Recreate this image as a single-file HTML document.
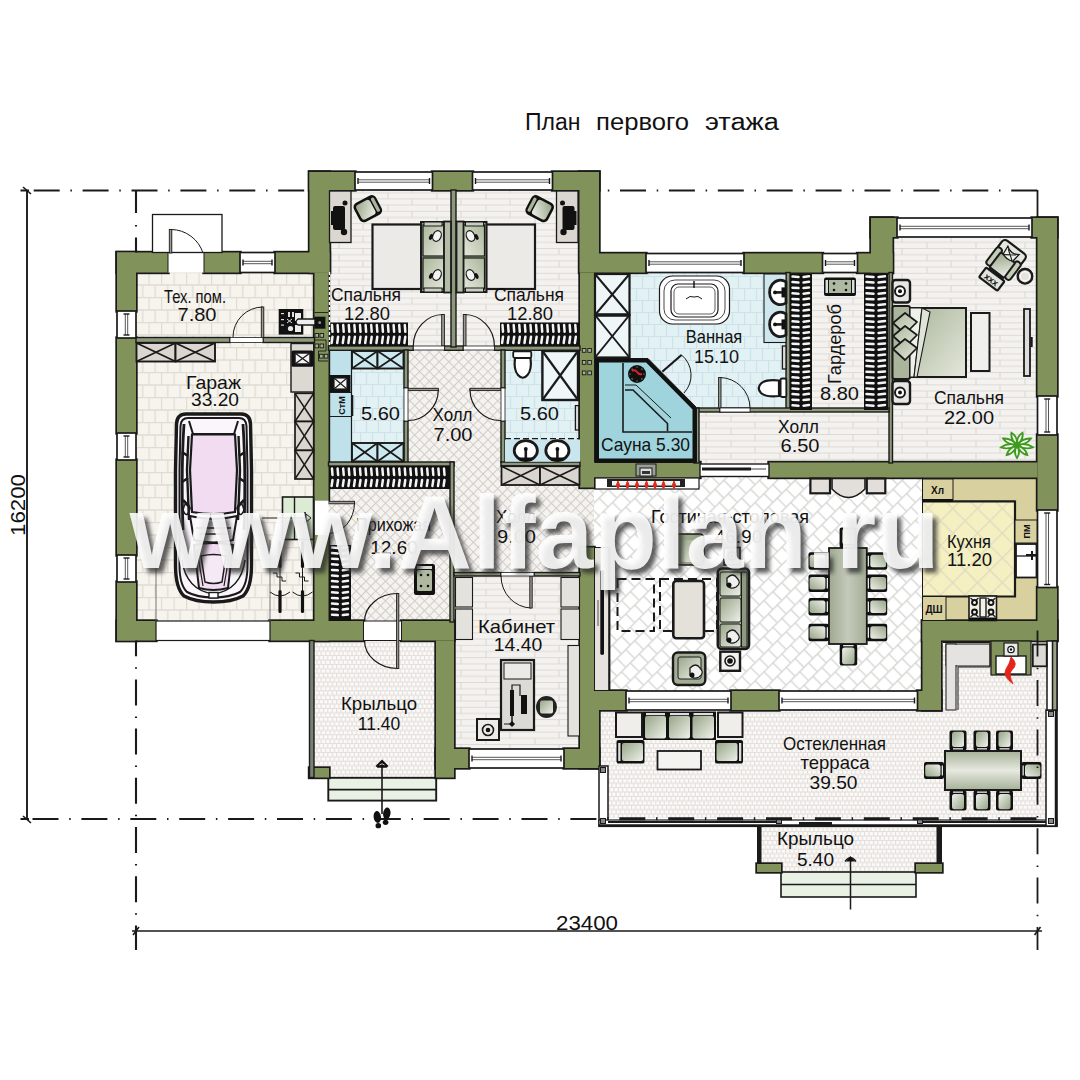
<!DOCTYPE html>
<html lang="ru"><head><meta charset="utf-8"><title>План первого этажа</title>
<style>
html,body{margin:0;padding:0;background:#fff;}
svg{display:block;font-family:"Liberation Sans",sans-serif;}
</style></head><body>
<svg width="1080" height="1080" viewBox="0 0 1080 1080">
<defs>
<pattern id="brick" width="12.5" height="25" patternUnits="userSpaceOnUse" x="136" y="272">
<rect width="12.5" height="25" fill="#f7f4ee"/>
<path d="M0 0.5H12.5M0 13H12.5M0.5 0V12.5M6.7 12.5V25" stroke="#dfdbd5" stroke-width="1.3" fill="none"/>
</pattern>
<pattern id="plank" width="98" height="12.4" patternUnits="userSpaceOnUse">
<rect width="98" height="12.4" fill="#f4f2ef"/>
<path d="M0 0.5H98M0 6.7H98M20 0V6.2M69 0V6.2M45 6.2V12.4M94 6.2V12.4" stroke="#dcd9d5" stroke-width="1.1" fill="none"/>
</pattern>
<pattern id="btile" width="12" height="24" patternUnits="userSpaceOnUse">
<rect width="12" height="24" fill="#e2f1f4"/>
<path d="M0 0.5H12M0 12.5H12M0.5 0V12M6.5 12V24" stroke="#cde2e8" stroke-width="1.2" fill="none"/>
</pattern>
<pattern id="diam" width="6.9" height="6.9" patternUnits="userSpaceOnUse" patternTransform="rotate(45)">
<rect width="6.9" height="6.9" fill="#f5f3f0"/>
<path d="M0 0.5H6.9M0.5 0V6.9" stroke="#d2cdc8" stroke-width="1.1" fill="none"/>
</pattern>
<pattern id="bigdiam" width="12.6" height="25.2" patternUnits="userSpaceOnUse" patternTransform="rotate(-45 600 480)">
<rect width="12.6" height="25.2" fill="#ffffff"/>
<path d="M0 0.7H12.6M0 13.3H12.6M0.7 0V12.6M7 12.6V25.2" stroke="#d8d8d6" stroke-width="1.4" fill="none"/>
</pattern>
<pattern id="kdiam" width="17.5" height="17.5" patternUnits="userSpaceOnUse" patternTransform="rotate(45)">
<rect width="17.5" height="17.5" fill="#f4f0c2"/>
<path d="M0 0.7H17.5M0.7 0V17.5" stroke="#e2dcc0" stroke-width="1.4" fill="none"/>
</pattern>
<pattern id="stile" width="4.4" height="8.8" patternUnits="userSpaceOnUse">
<rect width="4.4" height="8.8" fill="#e2ddd9"/>
<path d="M0.6 0.6h3.3v3.3h-3.3zM2.8 5h3.3v3.3h-3.3zM-1.6 5h3.3v3.3h-3.3z" fill="#fbfaf8"/>
</pattern>
<linearGradient id="gseat" x1="0" y1="0" x2="1" y2="1">
<stop offset="0" stop-color="#98a587"/><stop offset="1" stop-color="#eef1ea"/>
</linearGradient>
<linearGradient id="gtable" x1="0" y1="0" x2="1" y2="0">
<stop offset="0" stop-color="#9ea98f"/><stop offset="0.5" stop-color="#c4cabb"/><stop offset="1" stop-color="#a2ad94"/>
</linearGradient>
<linearGradient id="gtableh" x1="0" y1="0" x2="0" y2="1">
<stop offset="0" stop-color="#a6b198"/><stop offset="0.5" stop-color="#e6e9e0"/><stop offset="1" stop-color="#a6b198"/>
</linearGradient>
<linearGradient id="gbed" x1="0" y1="0" x2="1" y2="1">
<stop offset="0" stop-color="#aab69a"/><stop offset="1" stop-color="#e4e8dc"/>
</linearGradient>
<filter id="wmshadow" x="-5%" y="-20%" width="110%" height="150%">
<feGaussianBlur stdDeviation="2"/>
</filter>
</defs>

<rect width="1080" height="1080" fill="#ffffff"/>
<g id="floors">
<rect x="136.0" y="272.0" width="178.0" height="66.0" fill="url(#brick)" />
<rect x="136.0" y="340.0" width="178.0" height="282.0" fill="url(#brick)" />
<rect x="329.0" y="190.0" width="122.0" height="157.0" fill="url(#plank)" />
<rect x="456.0" y="190.0" width="124.0" height="157.0" fill="url(#plank)" />
<rect x="329.0" y="350.0" width="75.0" height="112.0" fill="#bfe2ea" />
<rect x="352.0" y="369.0" width="51.0" height="74.0" fill="url(#btile)" />
<rect x="408.0" y="350.0" width="93.0" height="116.0" fill="url(#diam)" />
<rect x="505.0" y="350.0" width="75.0" height="112.0" fill="url(#btile)" />
<rect x="328.0" y="466.0" width="122.0" height="156.0" fill="url(#diam)" />
<rect x="454.0" y="462.0" width="140.0" height="111.0" fill="url(#diam)" />
<rect x="454.0" y="576.0" width="126.0" height="173.0" fill="url(#plank)" />
<rect x="595.0" y="272.0" width="192.0" height="136.0" fill="url(#btile)" />
<rect x="699.0" y="412.0" width="191.0" height="51.0" fill="url(#plank)" />
<rect x="790.0" y="272.0" width="100.0" height="139.0" fill="url(#plank)" />
<rect x="892.0" y="237.0" width="146.0" height="226.0" fill="url(#plank)" />
<rect x="594.0" y="477.0" width="329.0" height="214.0" fill="url(#bigdiam)" />
<rect x="922.5" y="477.5" width="115.0" height="143.5" fill="#d9d0a0" />
<rect x="922.5" y="501.0" width="92.5" height="95.5" fill="url(#kdiam)" stroke="#1a1a1a" stroke-width="1" />
<path d="M953 501.5H1015V596.5H922.5" fill="none" stroke="#1a1a1a" stroke-width="2.2" />
<rect x="599.0" y="710.0" width="448.0" height="108.0" fill="url(#stile)" />
<rect x="941.0" y="640.0" width="111.0" height="71.0" fill="url(#stile)" />
<rect x="314.0" y="640.0" width="122.0" height="137.0" fill="url(#stile)" />
<rect x="760.0" y="826.0" width="178.0" height="46.0" fill="url(#stile)" />
<rect x="328.3" y="777.8" width="107.9" height="22.8" fill="#e9f1e5" stroke="#1a1a1a" stroke-width="1.9" />
<line x1="328.3" y1="789.6" x2="436.2" y2="789.6" stroke="#1a1a1a" stroke-width="1.7" />
<rect x="781.0" y="872.0" width="135.0" height="25.0" fill="#e9f1e5" stroke="#1a1a1a" stroke-width="1.6" />
<line x1="781.0" y1="884.5" x2="916.0" y2="884.5" stroke="#1a1a1a" stroke-width="1.4" />
</g>
<g id="walls">
<rect x="117.0" y="252.5" width="19.0" height="58.5" fill="#1a1a1a" stroke="#1a1a1a" stroke-width="3.4" />
<rect x="117.0" y="338.0" width="19.0" height="95.0" fill="#1a1a1a" stroke="#1a1a1a" stroke-width="3.4" />
<rect x="117.0" y="460.0" width="19.0" height="95.0" fill="#1a1a1a" stroke="#1a1a1a" stroke-width="3.4" />
<rect x="117.0" y="582.0" width="19.0" height="58.5" fill="#1a1a1a" stroke="#1a1a1a" stroke-width="3.4" />
<rect x="117.0" y="252.5" width="51.0" height="20.0" fill="#1a1a1a" stroke="#1a1a1a" stroke-width="3.4" />
<rect x="204.0" y="252.5" width="36.0" height="20.0" fill="#1a1a1a" stroke="#1a1a1a" stroke-width="3.4" />
<rect x="275.0" y="252.5" width="54.5" height="20.0" fill="#1a1a1a" stroke="#1a1a1a" stroke-width="3.4" />
<rect x="309.5" y="172.0" width="20.0" height="100.5" fill="#1a1a1a" stroke="#1a1a1a" stroke-width="3.4" />
<rect x="314.5" y="272.5" width="14.0" height="228.0" fill="#1a1a1a" stroke="#1a1a1a" stroke-width="3.4" />
<rect x="314.5" y="535.0" width="14.0" height="105.5" fill="#1a1a1a" stroke="#1a1a1a" stroke-width="3.4" />
<rect x="309.5" y="172.0" width="45.5" height="18.0" fill="#1a1a1a" stroke="#1a1a1a" stroke-width="3.4" />
<rect x="432.5" y="172.0" width="40.0" height="18.0" fill="#1a1a1a" stroke="#1a1a1a" stroke-width="3.4" />
<rect x="552.5" y="172.0" width="46.5" height="18.0" fill="#1a1a1a" stroke="#1a1a1a" stroke-width="3.4" />
<rect x="579.5" y="172.0" width="19.5" height="100.5" fill="#1a1a1a" stroke="#1a1a1a" stroke-width="3.4" />
<rect x="580.0" y="272.5" width="14.0" height="215.0" fill="#1a1a1a" stroke="#1a1a1a" stroke-width="3.4" />
<rect x="580.0" y="547.5" width="14.0" height="143.5" fill="#1a1a1a" stroke="#1a1a1a" stroke-width="3.4" />
<rect x="599.0" y="253.5" width="47.0" height="19.0" fill="#1a1a1a" stroke="#1a1a1a" stroke-width="3.4" />
<rect x="744.0" y="253.5" width="78.5" height="19.0" fill="#1a1a1a" stroke="#1a1a1a" stroke-width="3.4" />
<rect x="857.5" y="253.5" width="35.0" height="19.0" fill="#1a1a1a" stroke="#1a1a1a" stroke-width="3.4" />
<rect x="871.0" y="218.0" width="21.5" height="54.5" fill="#1a1a1a" stroke="#1a1a1a" stroke-width="3.4" />
<rect x="871.0" y="218.0" width="26.0" height="19.0" fill="#1a1a1a" stroke="#1a1a1a" stroke-width="3.4" />
<rect x="1032.0" y="218.0" width="25.0" height="19.0" fill="#1a1a1a" stroke="#1a1a1a" stroke-width="3.4" />
<rect x="1037.5" y="218.0" width="19.5" height="178.0" fill="#1a1a1a" stroke="#1a1a1a" stroke-width="3.4" />
<rect x="1037.5" y="435.0" width="19.5" height="75.0" fill="#1a1a1a" stroke="#1a1a1a" stroke-width="3.4" />
<rect x="1037.5" y="587.5" width="19.5" height="53.0" fill="#1a1a1a" stroke="#1a1a1a" stroke-width="3.4" />
<rect x="594.0" y="462.5" width="106.0" height="15.0" fill="#1a1a1a" stroke="#1a1a1a" stroke-width="3.4" />
<rect x="769.0" y="462.5" width="268.5" height="15.0" fill="#1a1a1a" stroke="#1a1a1a" stroke-width="3.4" />
<rect x="117.0" y="621.0" width="39.0" height="19.5" fill="#1a1a1a" stroke="#1a1a1a" stroke-width="3.4" />
<rect x="270.0" y="621.0" width="93.5" height="19.5" fill="#1a1a1a" stroke="#1a1a1a" stroke-width="3.4" />
<rect x="401.5" y="621.0" width="52.5" height="19.5" fill="#1a1a1a" stroke="#1a1a1a" stroke-width="3.4" />
<rect x="436.0" y="640.5" width="18.0" height="137.0" fill="#1a1a1a" stroke="#1a1a1a" stroke-width="3.4" />
<rect x="309.5" y="768.0" width="19.5" height="9.5" fill="#1a1a1a" stroke="#1a1a1a" stroke-width="3.4" />
<rect x="436.0" y="749.0" width="33.0" height="19.0" fill="#1a1a1a" stroke="#1a1a1a" stroke-width="3.4" />
<rect x="564.0" y="749.0" width="35.0" height="19.0" fill="#1a1a1a" stroke="#1a1a1a" stroke-width="3.4" />
<rect x="580.0" y="691.0" width="19.0" height="77.0" fill="#1a1a1a" stroke="#1a1a1a" stroke-width="3.4" />
<rect x="580.0" y="691.0" width="46.0" height="19.0" fill="#1a1a1a" stroke="#1a1a1a" stroke-width="3.4" />
<rect x="731.0" y="691.0" width="48.0" height="19.0" fill="#1a1a1a" stroke="#1a1a1a" stroke-width="3.4" />
<rect x="917.5" y="691.0" width="23.5" height="19.0" fill="#1a1a1a" stroke="#1a1a1a" stroke-width="3.4" />
<rect x="922.5" y="621.0" width="134.5" height="19.5" fill="#1a1a1a" stroke="#1a1a1a" stroke-width="3.4" />
<rect x="922.5" y="621.0" width="18.5" height="89.0" fill="#1a1a1a" stroke="#1a1a1a" stroke-width="3.4" />
<rect x="757.0" y="864.0" width="24.0" height="8.0" fill="#1a1a1a" stroke="#1a1a1a" stroke-width="3.4" />
<rect x="916.0" y="864.0" width="26.0" height="8.0" fill="#1a1a1a" stroke="#1a1a1a" stroke-width="3.4" />
<rect x="117.0" y="252.5" width="19.0" height="58.5" fill="#81935a" />
<rect x="117.0" y="338.0" width="19.0" height="95.0" fill="#81935a" />
<rect x="117.0" y="460.0" width="19.0" height="95.0" fill="#81935a" />
<rect x="117.0" y="582.0" width="19.0" height="58.5" fill="#81935a" />
<rect x="117.0" y="252.5" width="51.0" height="20.0" fill="#81935a" />
<rect x="204.0" y="252.5" width="36.0" height="20.0" fill="#81935a" />
<rect x="275.0" y="252.5" width="54.5" height="20.0" fill="#81935a" />
<rect x="309.5" y="172.0" width="20.0" height="100.5" fill="#81935a" />
<rect x="314.5" y="272.5" width="14.0" height="228.0" fill="#81935a" />
<rect x="314.5" y="535.0" width="14.0" height="105.5" fill="#81935a" />
<rect x="309.5" y="172.0" width="45.5" height="18.0" fill="#81935a" />
<rect x="432.5" y="172.0" width="40.0" height="18.0" fill="#81935a" />
<rect x="552.5" y="172.0" width="46.5" height="18.0" fill="#81935a" />
<rect x="579.5" y="172.0" width="19.5" height="100.5" fill="#81935a" />
<rect x="580.0" y="272.5" width="14.0" height="215.0" fill="#81935a" />
<rect x="580.0" y="547.5" width="14.0" height="143.5" fill="#81935a" />
<rect x="599.0" y="253.5" width="47.0" height="19.0" fill="#81935a" />
<rect x="744.0" y="253.5" width="78.5" height="19.0" fill="#81935a" />
<rect x="857.5" y="253.5" width="35.0" height="19.0" fill="#81935a" />
<rect x="871.0" y="218.0" width="21.5" height="54.5" fill="#81935a" />
<rect x="871.0" y="218.0" width="26.0" height="19.0" fill="#81935a" />
<rect x="1032.0" y="218.0" width="25.0" height="19.0" fill="#81935a" />
<rect x="1037.5" y="218.0" width="19.5" height="178.0" fill="#81935a" />
<rect x="1037.5" y="435.0" width="19.5" height="75.0" fill="#81935a" />
<rect x="1037.5" y="587.5" width="19.5" height="53.0" fill="#81935a" />
<rect x="594.0" y="462.5" width="106.0" height="15.0" fill="#81935a" />
<rect x="769.0" y="462.5" width="268.5" height="15.0" fill="#81935a" />
<rect x="117.0" y="621.0" width="39.0" height="19.5" fill="#81935a" />
<rect x="270.0" y="621.0" width="93.5" height="19.5" fill="#81935a" />
<rect x="401.5" y="621.0" width="52.5" height="19.5" fill="#81935a" />
<rect x="436.0" y="640.5" width="18.0" height="137.0" fill="#81935a" />
<rect x="309.5" y="768.0" width="19.5" height="9.5" fill="#81935a" />
<rect x="436.0" y="749.0" width="33.0" height="19.0" fill="#81935a" />
<rect x="564.0" y="749.0" width="35.0" height="19.0" fill="#81935a" />
<rect x="580.0" y="691.0" width="19.0" height="77.0" fill="#81935a" />
<rect x="580.0" y="691.0" width="46.0" height="19.0" fill="#81935a" />
<rect x="731.0" y="691.0" width="48.0" height="19.0" fill="#81935a" />
<rect x="917.5" y="691.0" width="23.5" height="19.0" fill="#81935a" />
<rect x="922.5" y="621.0" width="134.5" height="19.5" fill="#81935a" />
<rect x="922.5" y="621.0" width="18.5" height="89.0" fill="#81935a" />
<rect x="757.0" y="864.0" width="24.0" height="8.0" fill="#81935a" />
<rect x="916.0" y="864.0" width="26.0" height="8.0" fill="#81935a" />
<rect x="136.0" y="337.5" width="94.0" height="5.0" fill="#8e987a" stroke="#1a1a1a" stroke-width="1.4" />
<rect x="263.0" y="337.5" width="51.5" height="5.0" fill="#8e987a" stroke="#1a1a1a" stroke-width="1.4" />
<rect x="328.5" y="346.0" width="84.8" height="4.3" fill="#8e987a" stroke="#1a1a1a" stroke-width="1.4" />
<rect x="444.4" y="346.0" width="18.9" height="4.3" fill="#8e987a" stroke="#1a1a1a" stroke-width="1.4" />
<rect x="494.4" y="346.0" width="85.6" height="4.3" fill="#8e987a" stroke="#1a1a1a" stroke-width="1.4" />
<rect x="451.0" y="190.0" width="5.0" height="157.0" fill="#8e987a" stroke="#1a1a1a" stroke-width="1.4" />
<rect x="404.0" y="350.0" width="4.0" height="38.0" fill="#8e987a" stroke="#1a1a1a" stroke-width="1.4" />
<rect x="404.0" y="421.0" width="4.0" height="41.5" fill="#8e987a" stroke="#1a1a1a" stroke-width="1.4" />
<rect x="501.0" y="350.0" width="4.0" height="38.0" fill="#8e987a" stroke="#1a1a1a" stroke-width="1.4" />
<rect x="501.0" y="421.0" width="4.0" height="41.5" fill="#8e987a" stroke="#1a1a1a" stroke-width="1.4" />
<rect x="328.5" y="462.0" width="125.5" height="4.0" fill="#8e987a" stroke="#1a1a1a" stroke-width="1.4" />
<rect x="501.0" y="462.0" width="79.0" height="4.0" fill="#8e987a" stroke="#1a1a1a" stroke-width="1.4" />
<rect x="450.0" y="462.0" width="4.0" height="160.0" fill="#8e987a" stroke="#1a1a1a" stroke-width="1.4" />
<rect x="454.0" y="572.5" width="47.0" height="3.5" fill="#8e987a" stroke="#1a1a1a" stroke-width="1.4" />
<rect x="534.0" y="572.5" width="46.0" height="3.5" fill="#8e987a" stroke="#1a1a1a" stroke-width="1.4" />
<rect x="786.0" y="272.5" width="4.0" height="138.5" fill="#8e987a" stroke="#1a1a1a" stroke-width="1.4" />
<rect x="889.0" y="272.5" width="3.5" height="190.5" fill="#8e987a" stroke="#1a1a1a" stroke-width="1.4" />
<rect x="720.0" y="408.0" width="169.0" height="4.0" fill="#8e987a" stroke="#1a1a1a" stroke-width="1.4" />
<rect x="694.0" y="408.0" width="26.0" height="4.0" fill="#8e987a" stroke="#1a1a1a" stroke-width="1.4" />
<rect x="694.0" y="408.0" width="5.0" height="55.0" fill="#8e987a" stroke="#1a1a1a" stroke-width="1.4" />
<rect x="309.5" y="640.5" width="4.5" height="137.0" fill="#7b8172" stroke="#1a1a1a" stroke-width="1.4" />
</g>
<g id="windows">
<rect x="240.0" y="252.5" width="35.0" height="20.0" fill="#ffffff" stroke="#1a1a1a" stroke-width="1.7" />
<line x1="243.0" y1="261.3" x2="272.0" y2="261.3" stroke="#444" stroke-width="0.9" />
<line x1="243.0" y1="263.7" x2="272.0" y2="263.7" stroke="#444" stroke-width="0.9" />
<line x1="243.0" y1="259.5" x2="243.0" y2="265.5" stroke="#1a1a1a" stroke-width="1.4" />
<line x1="272.0" y1="259.5" x2="272.0" y2="265.5" stroke="#1a1a1a" stroke-width="1.4" />
<rect x="355.0" y="172.0" width="77.5" height="18.0" fill="#ffffff" stroke="#1a1a1a" stroke-width="1.7" />
<line x1="358.0" y1="179.8" x2="429.5" y2="179.8" stroke="#444" stroke-width="0.9" />
<line x1="358.0" y1="182.2" x2="429.5" y2="182.2" stroke="#444" stroke-width="0.9" />
<line x1="358.0" y1="178.0" x2="358.0" y2="184.0" stroke="#1a1a1a" stroke-width="1.4" />
<line x1="429.5" y1="178.0" x2="429.5" y2="184.0" stroke="#1a1a1a" stroke-width="1.4" />
<rect x="472.5" y="172.0" width="80.0" height="18.0" fill="#ffffff" stroke="#1a1a1a" stroke-width="1.7" />
<line x1="475.5" y1="179.8" x2="549.5" y2="179.8" stroke="#444" stroke-width="0.9" />
<line x1="475.5" y1="182.2" x2="549.5" y2="182.2" stroke="#444" stroke-width="0.9" />
<line x1="475.5" y1="178.0" x2="475.5" y2="184.0" stroke="#1a1a1a" stroke-width="1.4" />
<line x1="549.5" y1="178.0" x2="549.5" y2="184.0" stroke="#1a1a1a" stroke-width="1.4" />
<rect x="646.0" y="253.5" width="98.0" height="19.0" fill="#ffffff" stroke="#1a1a1a" stroke-width="1.7" />
<line x1="649.0" y1="261.8" x2="741.0" y2="261.8" stroke="#444" stroke-width="0.9" />
<line x1="649.0" y1="264.2" x2="741.0" y2="264.2" stroke="#444" stroke-width="0.9" />
<line x1="649.0" y1="260.0" x2="649.0" y2="266.0" stroke="#1a1a1a" stroke-width="1.4" />
<line x1="741.0" y1="260.0" x2="741.0" y2="266.0" stroke="#1a1a1a" stroke-width="1.4" />
<rect x="822.5" y="253.5" width="35.0" height="19.0" fill="#ffffff" stroke="#1a1a1a" stroke-width="1.7" />
<line x1="825.5" y1="261.8" x2="854.5" y2="261.8" stroke="#444" stroke-width="0.9" />
<line x1="825.5" y1="264.2" x2="854.5" y2="264.2" stroke="#444" stroke-width="0.9" />
<line x1="825.5" y1="260.0" x2="825.5" y2="266.0" stroke="#1a1a1a" stroke-width="1.4" />
<line x1="854.5" y1="260.0" x2="854.5" y2="266.0" stroke="#1a1a1a" stroke-width="1.4" />
<rect x="897.0" y="218.0" width="135.0" height="19.0" fill="#ffffff" stroke="#1a1a1a" stroke-width="1.7" />
<line x1="900.0" y1="226.3" x2="1029.0" y2="226.3" stroke="#444" stroke-width="0.9" />
<line x1="900.0" y1="228.7" x2="1029.0" y2="228.7" stroke="#444" stroke-width="0.9" />
<line x1="900.0" y1="224.5" x2="900.0" y2="230.5" stroke="#1a1a1a" stroke-width="1.4" />
<line x1="1029.0" y1="224.5" x2="1029.0" y2="230.5" stroke="#1a1a1a" stroke-width="1.4" />
<rect x="469.0" y="749.0" width="95.0" height="19.0" fill="#ffffff" stroke="#1a1a1a" stroke-width="1.7" />
<line x1="472.0" y1="757.3" x2="561.0" y2="757.3" stroke="#444" stroke-width="0.9" />
<line x1="472.0" y1="759.7" x2="561.0" y2="759.7" stroke="#444" stroke-width="0.9" />
<line x1="472.0" y1="755.5" x2="472.0" y2="761.5" stroke="#1a1a1a" stroke-width="1.4" />
<line x1="561.0" y1="755.5" x2="561.0" y2="761.5" stroke="#1a1a1a" stroke-width="1.4" />
<rect x="626.0" y="691.0" width="105.0" height="19.0" fill="#ffffff" stroke="#1a1a1a" stroke-width="1.7" />
<line x1="629.0" y1="699.3" x2="728.0" y2="699.3" stroke="#444" stroke-width="0.9" />
<line x1="629.0" y1="701.7" x2="728.0" y2="701.7" stroke="#444" stroke-width="0.9" />
<line x1="629.0" y1="697.5" x2="629.0" y2="703.5" stroke="#1a1a1a" stroke-width="1.4" />
<line x1="728.0" y1="697.5" x2="728.0" y2="703.5" stroke="#1a1a1a" stroke-width="1.4" />
<rect x="779.0" y="691.0" width="138.5" height="19.0" fill="#ffffff" stroke="#1a1a1a" stroke-width="1.7" />
<line x1="782.0" y1="699.3" x2="914.5" y2="699.3" stroke="#444" stroke-width="0.9" />
<line x1="782.0" y1="701.7" x2="914.5" y2="701.7" stroke="#444" stroke-width="0.9" />
<line x1="782.0" y1="697.5" x2="782.0" y2="703.5" stroke="#1a1a1a" stroke-width="1.4" />
<line x1="914.5" y1="697.5" x2="914.5" y2="703.5" stroke="#1a1a1a" stroke-width="1.4" />
<rect x="117.0" y="311.0" width="19.0" height="27.0" fill="#ffffff" stroke="#1a1a1a" stroke-width="1.7" />
<line x1="125.3" y1="314.0" x2="125.3" y2="335.0" stroke="#444" stroke-width="0.9" />
<line x1="127.7" y1="314.0" x2="127.7" y2="335.0" stroke="#444" stroke-width="0.9" />
<line x1="123.5" y1="314.0" x2="129.5" y2="314.0" stroke="#1a1a1a" stroke-width="1.4" />
<line x1="123.5" y1="335.0" x2="129.5" y2="335.0" stroke="#1a1a1a" stroke-width="1.4" />
<rect x="117.0" y="433.0" width="19.0" height="27.0" fill="#ffffff" stroke="#1a1a1a" stroke-width="1.7" />
<line x1="125.3" y1="436.0" x2="125.3" y2="457.0" stroke="#444" stroke-width="0.9" />
<line x1="127.7" y1="436.0" x2="127.7" y2="457.0" stroke="#444" stroke-width="0.9" />
<line x1="123.5" y1="436.0" x2="129.5" y2="436.0" stroke="#1a1a1a" stroke-width="1.4" />
<line x1="123.5" y1="457.0" x2="129.5" y2="457.0" stroke="#1a1a1a" stroke-width="1.4" />
<rect x="117.0" y="555.0" width="19.0" height="27.0" fill="#ffffff" stroke="#1a1a1a" stroke-width="1.7" />
<line x1="125.3" y1="558.0" x2="125.3" y2="579.0" stroke="#444" stroke-width="0.9" />
<line x1="127.7" y1="558.0" x2="127.7" y2="579.0" stroke="#444" stroke-width="0.9" />
<line x1="123.5" y1="558.0" x2="129.5" y2="558.0" stroke="#1a1a1a" stroke-width="1.4" />
<line x1="123.5" y1="579.0" x2="129.5" y2="579.0" stroke="#1a1a1a" stroke-width="1.4" />
<rect x="1037.5" y="396.0" width="19.5" height="39.0" fill="#ffffff" stroke="#1a1a1a" stroke-width="1.7" />
<line x1="1046.0" y1="399.0" x2="1046.0" y2="432.0" stroke="#444" stroke-width="0.9" />
<line x1="1048.5" y1="399.0" x2="1048.5" y2="432.0" stroke="#444" stroke-width="0.9" />
<line x1="1044.2" y1="399.0" x2="1050.2" y2="399.0" stroke="#1a1a1a" stroke-width="1.4" />
<line x1="1044.2" y1="432.0" x2="1050.2" y2="432.0" stroke="#1a1a1a" stroke-width="1.4" />
<rect x="1037.5" y="510.0" width="19.5" height="77.5" fill="#ffffff" stroke="#1a1a1a" stroke-width="1.7" />
<line x1="1046.0" y1="513.0" x2="1046.0" y2="584.5" stroke="#444" stroke-width="0.9" />
<line x1="1048.5" y1="513.0" x2="1048.5" y2="584.5" stroke="#444" stroke-width="0.9" />
<line x1="1044.2" y1="513.0" x2="1050.2" y2="513.0" stroke="#1a1a1a" stroke-width="1.4" />
<line x1="1044.2" y1="584.5" x2="1050.2" y2="584.5" stroke="#1a1a1a" stroke-width="1.4" />
<rect x="700.0" y="464.0" width="69.0" height="12.5" fill="#ffffff" stroke="#1a1a1a" stroke-width="1.4" />
<line x1="702.0" y1="469.0" x2="751.0" y2="469.0" stroke="#1a1a1a" stroke-width="3.2" />
<line x1="751.0" y1="469.0" x2="766.0" y2="469.0" stroke="#444" stroke-width="1" />
<rect x="156.0" y="621.0" width="114.0" height="19.5" fill="#ffffff" stroke="#1a1a1a" stroke-width="1.2" />
<line x1="156.0" y1="540.0" x2="156.0" y2="621.0" stroke="#555" stroke-width="0.8" />
<line x1="270.0" y1="540.0" x2="270.0" y2="621.0" stroke="#555" stroke-width="0.8" />
<rect x="363.5" y="621.0" width="38.0" height="19.5" fill="#ffffff" stroke="#1a1a1a" stroke-width="1" />
<rect x="168.0" y="252.5" width="36.0" height="20.0" fill="#ffffff" />
<line x1="168.0" y1="252.5" x2="168.0" y2="272.5" stroke="#1a1a1a" stroke-width="1" />
<line x1="204.0" y1="252.5" x2="204.0" y2="272.5" stroke="#1a1a1a" stroke-width="1" />
<rect x="152.5" y="214.5" width="69.5" height="38.0" fill="#ffffff" stroke="#1a1a1a" stroke-width="1.3" />
<rect x="599.0" y="766.0" width="9.0" height="60.0" fill="#ffffff" stroke="#1a1a1a" stroke-width="1.5" />
<rect x="599.0" y="820.0" width="458.0" height="6.5" fill="#ffffff" stroke="#1a1a1a" stroke-width="1.2" />
<line x1="599.0" y1="825.6" x2="1057.0" y2="825.6" stroke="#1a1a1a" stroke-width="2.6" />
<line x1="608.0" y1="822.0" x2="779.0" y2="822.0" stroke="#1a1a1a" stroke-width="2.2" />
<line x1="918.0" y1="822.0" x2="1046.0" y2="822.0" stroke="#1a1a1a" stroke-width="2.2" />
<line x1="799.0" y1="823.5" x2="832.0" y2="823.5" stroke="#1a1a1a" stroke-width="3" />
<rect x="1046.0" y="710.0" width="11.0" height="116.0" fill="#ffffff" stroke="#1a1a1a" stroke-width="1.5" />
<line x1="1056.0" y1="710.0" x2="1056.0" y2="826.0" stroke="#1a1a1a" stroke-width="2.5" />
<rect x="1047.0" y="641.0" width="10.0" height="69.0" fill="#ffffff" stroke="#1a1a1a" stroke-width="1.5" />
<rect x="1052.5" y="641.0" width="4.5" height="69.0" fill="#9aa184" stroke="#1a1a1a" stroke-width="1.5" />
<rect x="757.0" y="826.0" width="4.5" height="38.0" fill="#1a1a1a" />
<rect x="936.5" y="826.0" width="5.5" height="38.0" fill="#1a1a1a" />
</g>
<g id="furn">
<rect x="136.5" y="343.0" width="39.0" height="18.5" fill="#dad6cf" stroke="#1a1a1a" stroke-width="1.9" />
<line x1="136.5" y1="343.0" x2="175.5" y2="361.5" stroke="#1a1a1a" stroke-width="1.71" />
<line x1="136.5" y1="361.5" x2="175.5" y2="343.0" stroke="#1a1a1a" stroke-width="1.71" />
<rect x="175.5" y="343.0" width="39.5" height="18.5" fill="#dad6cf" stroke="#1a1a1a" stroke-width="1.9" />
<line x1="175.5" y1="343.0" x2="215.0" y2="361.5" stroke="#1a1a1a" stroke-width="1.71" />
<line x1="175.5" y1="361.5" x2="215.0" y2="343.0" stroke="#1a1a1a" stroke-width="1.71" />
<rect x="291.0" y="343.5" width="22.7" height="48.5" fill="#dcd8d2" stroke="#1a1a1a" stroke-width="1.4" />
<rect x="291.5" y="350.5" width="21.7" height="16.2" fill="#111" rx="1.5"/>
<rect x="295.0" y="353.0" width="15.0" height="11.0" fill="#f4f4f4" stroke="#1a1a1a" stroke-width="1.5" />
<line x1="295.0" y1="353.0" x2="310.0" y2="364.0" stroke="#1a1a1a" stroke-width="1.35" />
<line x1="295.0" y1="364.0" x2="310.0" y2="353.0" stroke="#1a1a1a" stroke-width="1.35" />
<rect x="295.0" y="393.3" width="18.7" height="28.2" fill="#dad6cf" stroke="#1a1a1a" stroke-width="1.7" />
<line x1="295.0" y1="393.3" x2="313.7" y2="421.5" stroke="#1a1a1a" stroke-width="1.53" />
<line x1="295.0" y1="421.5" x2="313.7" y2="393.3" stroke="#1a1a1a" stroke-width="1.53" />
<rect x="295.0" y="421.5" width="18.7" height="28.9" fill="#dad6cf" stroke="#1a1a1a" stroke-width="1.7" />
<line x1="295.0" y1="421.5" x2="313.7" y2="450.4" stroke="#1a1a1a" stroke-width="1.53" />
<line x1="295.0" y1="450.4" x2="313.7" y2="421.5" stroke="#1a1a1a" stroke-width="1.53" />
<rect x="295.0" y="450.4" width="18.7" height="28.6" fill="#dad6cf" stroke="#1a1a1a" stroke-width="1.7" />
<line x1="295.0" y1="450.4" x2="313.7" y2="479.0" stroke="#1a1a1a" stroke-width="1.53" />
<line x1="295.0" y1="479.0" x2="313.7" y2="450.4" stroke="#1a1a1a" stroke-width="1.53" />
<rect x="278.7" y="309.0" width="24.6" height="25.6" fill="#111" />
<rect x="295.0" y="313.0" width="6.0" height="8.0" fill="#eee" />
<rect x="295.0" y="325.0" width="6.0" height="7.0" fill="#eee" />
<rect x="288.0" y="312.0" width="2.0" height="5.0" fill="#ddd" />
<rect x="292.0" y="312.0" width="2.0" height="5.0" fill="#ddd" />
<rect x="281.0" y="313.0" width="3.0" height="1.2" fill="#ddd" />
<rect x="281.0" y="319.0" width="3.0" height="1.2" fill="#ddd" />
<rect x="281.0" y="324.5" width="3.0" height="1.2" fill="#ddd" />
<circle cx="290.5" cy="328.5" r="2.6" fill="#e8e8e8"/>
<path d="M287 319l5 4m0 -4l-5 4" fill="none" stroke="#ddd" stroke-width="1" />
<path d="M322 319H298Q294 322 298 325H322" fill="#eee" stroke="#1a1a1a" stroke-width="1.3" />
<rect x="314.3" y="316.7" width="11.1" height="12.0" fill="#111" />
<circle cx="319.7" cy="322.7" r="1.4" fill="#999"/>
<rect x="315.0" y="333.5" width="3.6" height="3.8" fill="#a9b090" stroke="#1a1a1a" stroke-width="0.9" />
<rect x="320.0" y="333.5" width="3.6" height="3.8" fill="#a9b090" stroke="#1a1a1a" stroke-width="0.9" />
<rect x="315.0" y="344.0" width="3.6" height="3.8" fill="#a9b090" stroke="#1a1a1a" stroke-width="0.9" />
<rect x="320.0" y="344.0" width="3.6" height="3.8" fill="#a9b090" stroke="#1a1a1a" stroke-width="0.9" />
<rect x="319.5" y="354.3" width="3.6" height="3.8" fill="#a9b090" stroke="#1a1a1a" stroke-width="0.9" />
<rect x="324.3" y="354.3" width="3.6" height="3.8" fill="#a9b090" stroke="#1a1a1a" stroke-width="0.9" />
<path d="M314.5 312.5H328M314.5 340H326V351H318.5V361H328" fill="none" stroke="#1a1a1a" stroke-width="0.9" />
<rect x="582.3" y="348.5" width="3.6" height="3.8" fill="#a9b090" stroke="#1a1a1a" stroke-width="0.9" />
<rect x="587.8" y="348.5" width="3.6" height="3.8" fill="#a9b090" stroke="#1a1a1a" stroke-width="0.9" />
<rect x="582.3" y="360.5" width="3.6" height="3.8" fill="#a9b090" stroke="#1a1a1a" stroke-width="0.9" />
<rect x="587.8" y="360.5" width="3.6" height="3.8" fill="#a9b090" stroke="#1a1a1a" stroke-width="0.9" />
<rect x="582.3" y="371.0" width="3.6" height="3.8" fill="#a9b090" stroke="#1a1a1a" stroke-width="0.9" />
<rect x="587.8" y="371.0" width="3.6" height="3.8" fill="#a9b090" stroke="#1a1a1a" stroke-width="0.9" />
<path d="M263 337V307 A30 30 0 0 0 233 337" fill="none" stroke="#1a1a1a" stroke-width="1" />
<rect x="261.3" y="307.0" width="2.5" height="30.5" fill="#9c9c90" stroke="#1a1a1a" stroke-width="0.9" />
<rect x="230.0" y="337.5" width="33.0" height="5.0" fill="#fff" stroke="#1a1a1a" stroke-width="0.8" />
<path d="M171 253V229.5 A34 34 0 0 1 203 253" fill="none" stroke="#1a1a1a" stroke-width="1" />
<rect x="169.3" y="229.5" width="2.5" height="23.5" fill="#9c9c90" stroke="#1a1a1a" stroke-width="0.9" />
<rect x="282.5" y="497.0" width="31.0" height="42.5" fill="#dcebd4" stroke="#1a1a1a" stroke-width="1.6" />
<line x1="294.5" y1="497.0" x2="294.5" y2="539.5" stroke="#1a1a1a" stroke-width="1.4" />
<line x1="262.0" y1="518.0" x2="306.0" y2="518.0" stroke="#1a1a1a" stroke-width="1" />
<path d="M306 514L311 518L306 522Z" fill="#fff" stroke="#1a1a1a" stroke-width="1" />
<line x1="305.0" y1="512.0" x2="305.0" y2="524.0" stroke="#1a1a1a" stroke-width="1.6" />
<path d="M328.5 502.5H354.5 A26 31 0 0 1 328.5 533.5" fill="none" stroke="#1a1a1a" stroke-width="1" />
<rect x="328.5" y="501.3" width="26.0" height="2.5" fill="#9c9c90" stroke="#1a1a1a" stroke-width="0.9" />
<rect x="314.5" y="500.5" width="14.0" height="34.5" fill="#fff" />
<line x1="314.5" y1="500.5" x2="314.5" y2="535.0" stroke="#1a1a1a" stroke-width="0.8" />
<line x1="280.0" y1="541.0" x2="280.0" y2="613.0" stroke="#1a1a1a" stroke-width="1" />
<rect x="278.4" y="541.0" width="3.2" height="27.0" fill="#111" rx="1.6"/>
<rect x="278.4" y="590.0" width="3.2" height="23.0" fill="#111" rx="1.6"/>
<path d="M273 573H277V577H282V581H286" fill="none" stroke="#1a1a1a" stroke-width="1" />
<path d="M270 592Q280 600 290 592" fill="none" stroke="#1a1a1a" stroke-width="1" />
<line x1="302.5" y1="541.0" x2="302.5" y2="613.0" stroke="#1a1a1a" stroke-width="1" />
<rect x="300.9" y="541.0" width="3.2" height="27.0" fill="#111" rx="1.6"/>
<rect x="300.9" y="590.0" width="3.2" height="23.0" fill="#111" rx="1.6"/>
<path d="M295.5 573H299.5V577H304.5V581H308.5" fill="none" stroke="#1a1a1a" stroke-width="1" />
<path d="M292.5 592Q302.5 600 312.5 592" fill="none" stroke="#1a1a1a" stroke-width="1" />
<g id="car">
<path d="M186 414 H241 Q250 414 250.5 424 L251.5 470 V565 Q251.5 588 243 596 Q232 602 213.5 602 Q195 602 184 596 Q175.5 588 175.5 565 V470 L176.5 424 Q177 414 186 414Z" fill="#fbf6fb" stroke="#1a1a1a" stroke-width="3.4" />
<path d="M188 418 H239 Q246 418 246.5 426 L247.5 470 V565 Q247.5 585 240 592 Q230 597.5 213.5 597.5 Q197 597.5 187 592 Q179.5 585 179.5 565 V470 L180.5 426 Q181 418 188 418Z" fill="none" stroke="#1a1a1a" stroke-width="2" />
<path d="M189 421 L193 434 H234 L238 421" fill="none" stroke="#1a1a1a" stroke-width="2" />
<path d="M192 434.5 H235 L237 470 L235 512 Q213.5 516 192 512 L190 470Z" fill="#f1dcf1" stroke="#1a1a1a" stroke-width="2.2" />
<path d="M184 424 Q181 470 183 530 M243 424 Q246 470 244 530" fill="none" stroke="#1a1a1a" stroke-width="2.8" />
<path d="M188.5 436 L187 470 L189 520 M238.5 436 L240 470 L238 520" fill="none" stroke="#1a1a1a" stroke-width="2.4" />
<path d="M182 452L188 456 M182 482L188 478 M183 500 L188.5 506 M245 452L239 456 M245 482L239 478 M244 500 L238.5 506" fill="none" stroke="#1a1a1a" stroke-width="2.6" />
<path d="M183 510 Q186 498 190 508 Q187 520 183 510Z M244 510 Q241 498 237 508 Q240 520 244 510Z" fill="none" stroke="#1a1a1a" stroke-width="1.6" />
<path d="M190 516 Q213.5 522 237 516 L233 540 Q213.5 545 194 540Z" fill="#fbf6fb" stroke="#1a1a1a" stroke-width="2" />
<path d="M196 528 H231 M200 534 H227" fill="none" stroke="#1a1a1a" stroke-width="1.4" />
<path d="M194 545 Q213.5 541 233 545 L228 588 Q213.5 592 199 588Z" fill="#f1dcf1" stroke="#1a1a1a" stroke-width="2" />
<path d="M201 556 Q213.5 553 226 556 L222 582 Q213.5 585 205 582Z" fill="#f6e9f6" stroke="#1a1a1a" stroke-width="1.5" />
<path d="M197 550 L203 586 M230 550 L224 586" fill="none" stroke="#1a1a1a" stroke-width="1.2" />
<path d="M182 560 Q186 590 213.5 594 Q241 590 245 560" fill="none" stroke="#1a1a1a" stroke-width="1.5" />
<rect x="209.0" y="592.5" width="9.0" height="5.5" fill="#fff" stroke="#1a1a1a" stroke-width="1.4" />
</g>
<g>
<rect x="329.5" y="191.0" width="21.5" height="51.5" fill="#dad7d0" stroke="#1a1a1a" stroke-width="1.3" />
<rect x="333.0" y="206.0" width="12.0" height="24.0" fill="#111" rx="2"/>
<rect x="331.0" y="211.0" width="5.0" height="14.0" fill="#111" />
<circle cx="345" cy="203" r="2.5" fill="#111"/><circle cx="344" cy="232" r="3.2" fill="#111"/>
<g transform="translate(367.7 208.5) rotate(-28)">
<rect x="-12.5" y="-10.5" width="25.0" height="21.5" fill="#111" rx="5"/>
<rect x="-10.0" y="-8.0" width="15.5" height="16.5" fill="url(#gseat)" rx="3"/>
<rect x="7.0" y="-7.5" width="3.3" height="15.5" fill="#a9b59a" rx="1.5"/>
</g>
<rect x="372.5" y="224.5" width="49.0" height="64.5" fill="#eceae6" stroke="#1a1a1a" stroke-width="2.2" />
<rect x="421.0" y="222.0" width="28.0" height="70.0" fill="#9aa68a" stroke="#1a1a1a" stroke-width="2" />
<rect x="423.0" y="225.0" width="21.0" height="31.0" fill="url(#gbed)" stroke="#1a1a1a" stroke-width="1.2" />
<rect x="423.0" y="258.0" width="21.0" height="31.0" fill="url(#gbed)" stroke="#1a1a1a" stroke-width="1.2" />
<rect x="444.0" y="221.5" width="7.0" height="71.0" fill="#b3bca6" stroke="#1a1a1a" stroke-width="1.8" />
<rect x="424.0" y="222.0" width="18.0" height="4.0" fill="#c9cfc0" stroke="#1a1a1a" stroke-width="1" />
<rect x="424.0" y="288.0" width="18.0" height="4.0" fill="#c9cfc0" stroke="#1a1a1a" stroke-width="1" />
<ellipse cx="437" cy="236" rx="4" ry="5.5" fill="#f4f4f2" stroke="#1a1a1a" stroke-width="1.2" transform="rotate(25 437 236)"/>
<ellipse cx="431" cy="237" rx="1.8" ry="3" fill="#111" transform="rotate(25 431 237)"/>
<ellipse cx="437" cy="275" rx="4" ry="5.5" fill="#f4f4f2" stroke="#1a1a1a" stroke-width="1.2" transform="rotate(25 437 275)"/>
<ellipse cx="431" cy="276" rx="1.8" ry="3" fill="#111" transform="rotate(25 431 276)"/>
</g>
<g transform="translate(907.5 0) scale(-1 1)">
<rect x="329.5" y="191.0" width="21.5" height="51.5" fill="#dad7d0" stroke="#1a1a1a" stroke-width="1.3" />
<rect x="333.0" y="206.0" width="12.0" height="24.0" fill="#111" rx="2"/>
<rect x="331.0" y="211.0" width="5.0" height="14.0" fill="#111" />
<circle cx="345" cy="203" r="2.5" fill="#111"/><circle cx="344" cy="232" r="3.2" fill="#111"/>
<g transform="translate(367.7 208.5) rotate(-28)">
<rect x="-12.5" y="-10.5" width="25.0" height="21.5" fill="#111" rx="5"/>
<rect x="-10.0" y="-8.0" width="15.5" height="16.5" fill="url(#gseat)" rx="3"/>
<rect x="7.0" y="-7.5" width="3.3" height="15.5" fill="#a9b59a" rx="1.5"/>
</g>
<rect x="372.5" y="224.5" width="49.0" height="64.5" fill="#eceae6" stroke="#1a1a1a" stroke-width="2.2" />
<rect x="421.0" y="222.0" width="28.0" height="70.0" fill="#9aa68a" stroke="#1a1a1a" stroke-width="2" />
<rect x="423.0" y="225.0" width="21.0" height="31.0" fill="url(#gbed)" stroke="#1a1a1a" stroke-width="1.2" />
<rect x="423.0" y="258.0" width="21.0" height="31.0" fill="url(#gbed)" stroke="#1a1a1a" stroke-width="1.2" />
<rect x="444.0" y="221.5" width="7.0" height="71.0" fill="#b3bca6" stroke="#1a1a1a" stroke-width="1.8" />
<rect x="424.0" y="222.0" width="18.0" height="4.0" fill="#c9cfc0" stroke="#1a1a1a" stroke-width="1" />
<rect x="424.0" y="288.0" width="18.0" height="4.0" fill="#c9cfc0" stroke="#1a1a1a" stroke-width="1" />
<ellipse cx="437" cy="236" rx="4" ry="5.5" fill="#f4f4f2" stroke="#1a1a1a" stroke-width="1.2" transform="rotate(25 437 236)"/>
<ellipse cx="431" cy="237" rx="1.8" ry="3" fill="#111" transform="rotate(25 431 237)"/>
<ellipse cx="437" cy="275" rx="4" ry="5.5" fill="#f4f4f2" stroke="#1a1a1a" stroke-width="1.2" transform="rotate(25 437 275)"/>
<ellipse cx="431" cy="276" rx="1.8" ry="3" fill="#111" transform="rotate(25 431 276)"/>
</g>
<rect x="329.5" y="322.5" width="78.5" height="23.5" fill="#111" />
<path d="M332.0 325.0L332.5 331.8M332.5 336.8L331.6 343.0M337.6 325.0L338.1 331.8M338.1 336.8L337.2 343.0M343.2 325.0L343.7 331.8M343.7 336.8L342.8 343.0M348.8 325.0L349.3 331.8M349.3 336.8L348.4 343.0M354.4 325.0L354.9 331.8M354.9 336.8L354.0 343.0M360.0 325.0L360.5 331.8M360.5 336.8L359.6 343.0M365.6 325.0L366.1 331.8M366.1 336.8L365.2 343.0M371.2 325.0L371.7 331.8M371.7 336.8L370.8 343.0M376.8 325.0L377.3 331.8M377.3 336.8L376.4 343.0M382.4 325.0L382.9 331.8M382.9 336.8L382.0 343.0M388.0 325.0L388.5 331.8M388.5 336.8L387.6 343.0M393.6 325.0L394.1 331.8M394.1 336.8L393.2 343.0M399.2 325.0L399.7 331.8M399.7 336.8L398.8 343.0M404.8 325.0L405.3 331.8M405.3 336.8L404.4 343.0" fill="none" stroke="#f4f4f4" stroke-width="2.5" stroke-linecap="round"/>
<rect x="500.0" y="322.5" width="79.5" height="23.5" fill="#111" />
<path d="M502.5 325.0L503.0 331.8M503.0 336.8L502.1 343.0M508.1 325.0L508.6 331.8M508.6 336.8L507.7 343.0M513.7 325.0L514.2 331.8M514.2 336.8L513.3 343.0M519.3 325.0L519.8 331.8M519.8 336.8L518.9 343.0M524.9 325.0L525.4 331.8M525.4 336.8L524.5 343.0M530.5 325.0L531.0 331.8M531.0 336.8L530.1 343.0M536.1 325.0L536.6 331.8M536.6 336.8L535.7 343.0M541.7 325.0L542.2 331.8M542.2 336.8L541.3 343.0M547.3 325.0L547.8 331.8M547.8 336.8L546.9 343.0M552.9 325.0L553.4 331.8M553.4 336.8L552.5 343.0M558.5 325.0L559.0 331.8M559.0 336.8L558.1 343.0M564.1 325.0L564.6 331.8M564.6 336.8L563.7 343.0M569.7 325.0L570.2 331.8M570.2 336.8L569.3 343.0M575.3 325.0L575.8 331.8M575.8 336.8L574.9 343.0" fill="none" stroke="#f4f4f4" stroke-width="2.5" stroke-linecap="round"/>
<line x1="329.5" y1="272.0" x2="329.5" y2="347.0" stroke="#fff" stroke-width="1.4" stroke-dasharray="3 2"/>
<path d="M443 346V314.5 A30 31.5 0 0 0 413.3 346" fill="none" stroke="#1a1a1a" stroke-width="1.2" />
<rect x="441.7" y="314.5" width="2.7" height="31.5" fill="#9c9c90" stroke="#1a1a1a" stroke-width="0.9" />
<path d="M464.6 346V314.5 A30 31.5 0 0 1 494.4 346" fill="none" stroke="#1a1a1a" stroke-width="1.2" />
<rect x="463.3" y="314.5" width="2.7" height="31.5" fill="#9c9c90" stroke="#1a1a1a" stroke-width="0.9" />
<rect x="413.3" y="346.0" width="31.1" height="4.0" fill="#fff" stroke="#1a1a1a" stroke-width="0.8" />
<rect x="463.3" y="346.0" width="31.1" height="4.0" fill="#fff" stroke="#1a1a1a" stroke-width="0.8" />
<line x1="351.5" y1="350.0" x2="351.5" y2="462.0" stroke="#1a1a1a" stroke-width="1.2" />
<line x1="329.5" y1="392.5" x2="351.5" y2="392.5" stroke="#1a1a1a" stroke-width="1" />
<line x1="329.5" y1="416.5" x2="351.5" y2="416.5" stroke="#1a1a1a" stroke-width="1" />
<rect x="329.5" y="375.0" width="21.0" height="17.0" fill="#111" />
<rect x="334.0" y="378.0" width="13.0" height="11.0" fill="#f4f4f4" stroke="#1a1a1a" stroke-width="1.2" />
<line x1="334.0" y1="378.0" x2="347.0" y2="389.0" stroke="#1a1a1a" stroke-width="1.08" />
<line x1="334.0" y1="389.0" x2="347.0" y2="378.0" stroke="#1a1a1a" stroke-width="1.08" />
<rect x="352.0" y="351.0" width="25.5" height="17.5" fill="#cde9f0" stroke="#1a1a1a" stroke-width="1.9" />
<line x1="352.0" y1="351.0" x2="377.5" y2="368.5" stroke="#1a1a1a" stroke-width="1.71" />
<line x1="352.0" y1="368.5" x2="377.5" y2="351.0" stroke="#1a1a1a" stroke-width="1.71" />
<rect x="377.5" y="351.0" width="26.0" height="17.5" fill="#cde9f0" stroke="#1a1a1a" stroke-width="1.9" />
<line x1="377.5" y1="351.0" x2="403.5" y2="368.5" stroke="#1a1a1a" stroke-width="1.71" />
<line x1="377.5" y1="368.5" x2="403.5" y2="351.0" stroke="#1a1a1a" stroke-width="1.71" />
<rect x="352.0" y="443.0" width="25.5" height="18.5" fill="#cde9f0" stroke="#1a1a1a" stroke-width="1.9" />
<line x1="352.0" y1="443.0" x2="377.5" y2="461.5" stroke="#1a1a1a" stroke-width="1.71" />
<line x1="352.0" y1="461.5" x2="377.5" y2="443.0" stroke="#1a1a1a" stroke-width="1.71" />
<rect x="377.5" y="443.0" width="26.0" height="18.5" fill="#cde9f0" stroke="#1a1a1a" stroke-width="1.9" />
<line x1="377.5" y1="443.0" x2="403.5" y2="461.5" stroke="#1a1a1a" stroke-width="1.71" />
<line x1="377.5" y1="461.5" x2="403.5" y2="443.0" stroke="#1a1a1a" stroke-width="1.71" />
<line x1="352.5" y1="395.0" x2="352.5" y2="416.0" stroke="#1a1a1a" stroke-width="1.6" />
<path d="M408 389.4H438.3 A30.5 31 0 0 1 408 420.5" fill="none" stroke="#1a1a1a" stroke-width="1.2" />
<rect x="407.8" y="388.3" width="30.5" height="2.3" fill="#9c9c90" stroke="#1a1a1a" stroke-width="0.9" />
<path d="M501 389.4H470 A30.5 31 0 0 0 501 420.5" fill="none" stroke="#1a1a1a" stroke-width="1.2" />
<rect x="470.0" y="388.3" width="31.0" height="2.3" fill="#9c9c90" stroke="#1a1a1a" stroke-width="0.9" />
<rect x="404.0" y="388.0" width="4.0" height="33.0" fill="#fff" stroke="#1a1a1a" stroke-width="0.8" />
<rect x="501.0" y="388.0" width="4.0" height="33.0" fill="#fff" stroke="#1a1a1a" stroke-width="0.8" />
<rect x="505.0" y="439.4" width="75.0" height="22.3" fill="#c9e6ee" />
<rect x="513.2" y="351.3" width="18.1" height="6.5" fill="#fff" stroke="#1a1a1a" stroke-width="1.8" rx="1.5"/>
<path d="M515 358 Q513.5 370 518 375 Q522.8 380.5 527.5 375 Q532 370 530.5 358Z" fill="#fff" stroke="#1a1a1a" stroke-width="2.2" />
<rect x="542.4" y="351.0" width="35.6" height="49.0" fill="#eef6f8" stroke="#1a1a1a" stroke-width="2.4" />
<line x1="542.4" y1="351.0" x2="578.0" y2="400.0" stroke="#1a1a1a" stroke-width="2.16" />
<line x1="542.4" y1="400.0" x2="578.0" y2="351.0" stroke="#1a1a1a" stroke-width="2.16" />
<line x1="505.0" y1="438.7" x2="580.0" y2="438.7" stroke="#1a1a1a" stroke-width="1.3" stroke-dasharray="6 3"/>
<ellipse cx="525.8" cy="450.6" rx="11.6" ry="10" fill="#fff" stroke="#1a1a1a" stroke-width="2.8"/>
<path d="M519.8 457.5H531.8V461H519.8Z" fill="#111"/>
<line x1="525.8" y1="448.5" x2="525.8" y2="458.0" stroke="#1a1a1a" stroke-width="2.6" />
<circle cx="525.8" cy="449" r="1.9" fill="#111"/>
<ellipse cx="557.4" cy="450.6" rx="11.6" ry="10" fill="#fff" stroke="#1a1a1a" stroke-width="2.8"/>
<path d="M551.4 457.5H563.4V461H551.4Z" fill="#111"/>
<line x1="557.4" y1="448.5" x2="557.4" y2="458.0" stroke="#1a1a1a" stroke-width="2.6" />
<circle cx="557.4" cy="449" r="1.9" fill="#111"/>
<rect x="501.5" y="466.2" width="38.5" height="18.8" fill="#dad6cf" stroke="#1a1a1a" stroke-width="1.8" />
<line x1="501.5" y1="466.2" x2="540.0" y2="485.0" stroke="#1a1a1a" stroke-width="1.62" />
<line x1="501.5" y1="485.0" x2="540.0" y2="466.2" stroke="#1a1a1a" stroke-width="1.62" />
<rect x="540.0" y="466.2" width="39.5" height="18.8" fill="#dad6cf" stroke="#1a1a1a" stroke-width="1.8" />
<line x1="540.0" y1="466.2" x2="579.5" y2="485.0" stroke="#1a1a1a" stroke-width="1.62" />
<line x1="540.0" y1="485.0" x2="579.5" y2="466.2" stroke="#1a1a1a" stroke-width="1.62" />
<rect x="575.4" y="405.6" width="3.4" height="24.4" fill="#ddd" stroke="#1a1a1a" stroke-width="1.3" />
<rect x="329.5" y="466.0" width="120.5" height="23.0" fill="#111" />
<path d="M332.0 468.5L332.5 475.0M332.5 480.0L331.6 486.0M337.6 468.5L338.1 475.0M338.1 480.0L337.2 486.0M343.2 468.5L343.7 475.0M343.7 480.0L342.8 486.0M348.8 468.5L349.3 475.0M349.3 480.0L348.4 486.0M354.4 468.5L354.9 475.0M354.9 480.0L354.0 486.0M360.0 468.5L360.5 475.0M360.5 480.0L359.6 486.0M365.6 468.5L366.1 475.0M366.1 480.0L365.2 486.0M371.2 468.5L371.7 475.0M371.7 480.0L370.8 486.0M376.8 468.5L377.3 475.0M377.3 480.0L376.4 486.0M382.4 468.5L382.9 475.0M382.9 480.0L382.0 486.0M388.0 468.5L388.5 475.0M388.5 480.0L387.6 486.0M393.6 468.5L394.1 475.0M394.1 480.0L393.2 486.0M399.2 468.5L399.7 475.0M399.7 480.0L398.8 486.0M404.8 468.5L405.3 475.0M405.3 480.0L404.4 486.0M410.4 468.5L410.9 475.0M410.9 480.0L410.0 486.0M416.0 468.5L416.5 475.0M416.5 480.0L415.6 486.0M421.6 468.5L422.1 475.0M422.1 480.0L421.2 486.0M427.2 468.5L427.7 475.0M427.7 480.0L426.8 486.0M432.8 468.5L433.3 475.0M433.3 480.0L432.4 486.0M438.4 468.5L438.9 475.0M438.9 480.0L438.0 486.0M444.0 468.5L444.5 475.0M444.5 480.0L443.6 486.0" fill="none" stroke="#f4f4f4" stroke-width="2.5" stroke-linecap="round"/>
<rect x="329.5" y="545.0" width="21.5" height="76.0" fill="#111" />
<path d="M332.0 547.5L337.8 547.9M342.8 547.9L348.0 547.2M332.0 553.1L337.8 553.5M342.8 553.5L348.0 552.8M332.0 558.7L337.8 559.1M342.8 559.1L348.0 558.4M332.0 564.3L337.8 564.7M342.8 564.7L348.0 564.0M332.0 569.9L337.8 570.3M342.8 570.3L348.0 569.6M332.0 575.5L337.8 575.9M342.8 575.9L348.0 575.2M332.0 581.1L337.8 581.5M342.8 581.5L348.0 580.8M332.0 586.7L337.8 587.1M342.8 587.1L348.0 586.4M332.0 592.3L337.8 592.7M342.8 592.7L348.0 592.0M332.0 597.9L337.8 598.3M342.8 598.3L348.0 597.6M332.0 603.5L337.8 603.9M342.8 603.9L348.0 603.2M332.0 609.1L337.8 609.5M342.8 609.5L348.0 608.8M332.0 614.7L337.8 615.1M342.8 615.1L348.0 614.4" fill="none" stroke="#f4f4f4" stroke-width="2.5" stroke-linecap="round"/>
<rect x="414.0" y="564.0" width="21.0" height="31.0" fill="#111" rx="2"/>
<rect x="417.0" y="570.0" width="15.0" height="21.0" fill="#aeb9a0" rx="1.5"/>
<rect x="417.0" y="566.0" width="15.0" height="3.0" fill="#d8d8d4" />
<circle cx="421" cy="575" r="1.3" fill="#111"/>
<circle cx="428" cy="575" r="1.3" fill="#111"/>
<circle cx="421" cy="586" r="1.3" fill="#111"/>
<circle cx="428" cy="586" r="1.3" fill="#111"/>
<path d="M364.5 621.5 A 33 28 0 0 1 397.5 593.5" fill="none" stroke="#1a1a1a" stroke-width="1.2" />
<path d="M364.5 640.5 A 33 28 0 0 0 397.5 668.5" fill="none" stroke="#1a1a1a" stroke-width="1.2" />
<rect x="396.6" y="593.5" width="2.2" height="75.0" fill="#9c9c90" stroke="#1a1a1a" stroke-width="0.9" />
<rect x="455.5" y="577.5" width="17.0" height="29.5" fill="#e4e2dc" stroke="#1a1a1a" stroke-width="1.1" />
<rect x="455.5" y="609.0" width="17.0" height="30.5" fill="#e4e2dc" stroke="#1a1a1a" stroke-width="1.1" />
<rect x="561.0" y="577.5" width="18.5" height="29.5" fill="#e4e2dc" stroke="#1a1a1a" stroke-width="1.1" />
<rect x="561.0" y="609.0" width="18.5" height="30.5" fill="#e4e2dc" stroke="#1a1a1a" stroke-width="1.1" />
<rect x="568.0" y="645.5" width="11.5" height="90.5" fill="#e4e2dc" stroke="#1a1a1a" stroke-width="1.1" />
<path d="M531 576V608 A31 32 0 0 1 501 576" fill="none" stroke="#1a1a1a" stroke-width="1" />
<rect x="529.8" y="576.0" width="2.4" height="32.0" fill="#9c9c90" stroke="#1a1a1a" stroke-width="0.9" />
<rect x="501.0" y="572.5" width="33.0" height="3.5" fill="#fff" stroke="#1a1a1a" stroke-width="0.8" />
<rect x="501.0" y="660.0" width="33.0" height="70.0" fill="#dcdad4" stroke="#1a1a1a" stroke-width="2.2" />
<rect x="504.0" y="663.0" width="27.0" height="16.0" fill="#eceae6" stroke="#1a1a1a" stroke-width="1" />
<rect x="510.0" y="690.0" width="4.0" height="26.0" fill="#111" />
<rect x="521.0" y="695.0" width="6.0" height="19.0" fill="#111" />
<path d="M512 690 V685 H520 V696" fill="none" stroke="#1a1a1a" stroke-width="1.2" />
<path d="M512 716V723" fill="none" stroke="#1a1a1a" stroke-width="1.5" />
<path d="M512 721l3 3l-3 3l-3 -3z" fill="#111"/>
<line x1="504.0" y1="724.0" x2="510.0" y2="724.0" stroke="#1a1a1a" stroke-width="1" />
<ellipse cx="546.5" cy="707" rx="10.5" ry="11" fill="#222"/>
<rect x="540.0" y="700.5" width="13.0" height="13.0" fill="url(#gseat)" rx="2"/>
<rect x="477.0" y="719.0" width="22.0" height="21.0" fill="#ecebe8" stroke="#1a1a1a" stroke-width="2" />
<circle cx="488" cy="730" r="5.5" fill="none" stroke="#1a1a1a" stroke-width="1.6"/><circle cx="488" cy="730" r="2.3" fill="#111"/>
<rect x="595.0" y="274.0" width="34.5" height="41.0" fill="#eef6f8" stroke="#1a1a1a" stroke-width="2.2" />
<line x1="595.0" y1="274.0" x2="629.5" y2="315.0" stroke="#1a1a1a" stroke-width="1.9800000000000002" />
<line x1="595.0" y1="315.0" x2="629.5" y2="274.0" stroke="#1a1a1a" stroke-width="1.9800000000000002" />
<rect x="595.0" y="315.0" width="34.5" height="42.5" fill="#eef6f8" stroke="#1a1a1a" stroke-width="2.2" />
<line x1="595.0" y1="315.0" x2="629.5" y2="357.5" stroke="#1a1a1a" stroke-width="1.9800000000000002" />
<line x1="595.0" y1="357.5" x2="629.5" y2="315.0" stroke="#1a1a1a" stroke-width="1.9800000000000002" />
<line x1="595.0" y1="315.0" x2="629.5" y2="315.0" stroke="#1a1a1a" stroke-width="3.6" />
<rect x="659.5" y="276.0" width="70.0" height="48.0" fill="#fff" stroke="#1a1a1a" stroke-width="1.2" rx="13"/>
<rect x="664.0" y="280.0" width="61.0" height="40.0" fill="none" stroke="#333" stroke-width="0.9" rx="11"/>
<rect x="671.0" y="284.0" width="47.0" height="33.0" fill="#fff" stroke="#1a1a1a" stroke-width="1.2" rx="7"/>
<rect x="674.0" y="287.0" width="41.0" height="27.0" fill="none" stroke="#333" stroke-width="0.8" rx="5"/>
<path d="M686 299Q690 295 694 297Q698 295 702 299" fill="none" stroke="#1a1a1a" stroke-width="1" />
<line x1="694.0" y1="281.0" x2="694.0" y2="288.0" stroke="#1a1a1a" stroke-width="1.5" />
<rect x="764.0" y="274.0" width="22.0" height="68.5" fill="#cfe6ec" stroke="#1a1a1a" stroke-width="1.1" />
<path d="M786 281.9 A10.8 12.3 0 1 0 786 302.9Z" fill="#fff" stroke="#1a1a1a" stroke-width="2.8"/>
<path d="M781.5 287.4H785.5V297.4H781.5Z" fill="#111"/>
<line x1="775.0" y1="292.4" x2="782.0" y2="292.4" stroke="#1a1a1a" stroke-width="2.6" />
<circle cx="775" cy="292.4" r="1.9" fill="#111"/>
<path d="M786 313.9 A10.8 12.3 0 1 0 786 334.9Z" fill="#fff" stroke="#1a1a1a" stroke-width="2.8"/>
<path d="M781.5 319.4H785.5V329.4H781.5Z" fill="#111"/>
<line x1="775.0" y1="324.4" x2="782.0" y2="324.4" stroke="#1a1a1a" stroke-width="2.6" />
<circle cx="775" cy="324.4" r="1.9" fill="#111"/>
<rect x="782.4" y="346.0" width="3.6" height="23.0" fill="#ddd" stroke="#1a1a1a" stroke-width="1.3" />
<path d="M779 380.5 Q766 379 761 383.5 Q756.5 388.2 761 393 Q766 397.5 779 396Z" fill="#fff" stroke="#1a1a1a" stroke-width="2.2" />
<rect x="780.6" y="378.5" width="5.7" height="18.5" fill="#fff" stroke="#1a1a1a" stroke-width="1.8" rx="1.5"/>
<path d="M720 408V377.5 A30.5 30.5 0 0 1 750 408" fill="none" stroke="#1a1a1a" stroke-width="1" />
<rect x="718.6" y="377.5" width="2.4" height="30.5" fill="#9c9c90" stroke="#1a1a1a" stroke-width="0.9" />
<rect x="720.0" y="408.0" width="30.0" height="4.0" fill="#fff" stroke="#1a1a1a" stroke-width="0.8" />
<path d="M595 358.5H648L696.5 407.5V462.5H595Z" fill="#9fd4dd" stroke="#1a1a1a" stroke-width="1" />
<path d="M597 360.5H647L694.5 408.5V460.5H597Z" fill="none" stroke="#111" stroke-width="4" />
<path d="M623 363V432H692" fill="none" stroke="#1a1a1a" stroke-width="1.6" />
<path d="M625 390H633L667.5 423.5V431" fill="none" stroke="#1a1a1a" stroke-width="1.6" />
<path d="M625 385H636L671 418" fill="none" stroke="#1a1a1a" stroke-width="1" />
<circle cx="637" cy="374" r="9" fill="#111"/><path d="M632 371q3 -2 5 1t5 2" stroke="#d22" stroke-width="2" fill="none"/>
<circle cx="644.0" cy="374.0" r="0.6" fill="#bbb"/>
<circle cx="641.9" cy="378.9" r="0.6" fill="#bbb"/>
<circle cx="637.0" cy="381.0" r="0.6" fill="#bbb"/>
<circle cx="632.1" cy="378.9" r="0.6" fill="#bbb"/>
<circle cx="630.0" cy="374.0" r="0.6" fill="#bbb"/>
<circle cx="632.1" cy="369.1" r="0.6" fill="#bbb"/>
<circle cx="637.0" cy="367.0" r="0.6" fill="#bbb"/>
<circle cx="641.9" cy="369.1" r="0.6" fill="#bbb"/>
<path d="M662.5 371.5L681.5 355 A26 26 0 0 1 684 393" fill="none" stroke="#1a1a1a" stroke-width="1" />
<line x1="662.5" y1="371.5" x2="681.5" y2="355.0" stroke="#1a1a1a" stroke-width="2.2" />
<rect x="636.0" y="464.0" width="20.0" height="12.0" fill="#9a9e94" stroke="#1a1a1a" stroke-width="1" />
<rect x="640.0" y="468.0" width="12.0" height="8.0" fill="#ddd" stroke="#1a1a1a" stroke-width="1" />
<rect x="642.0" y="471.0" width="8.0" height="3.0" fill="#333" />
<rect x="595.0" y="478.0" width="104.0" height="11.0" fill="#fff" stroke="#1a1a1a" stroke-width="1.2" />
<rect x="607.0" y="479.0" width="78.0" height="8.0" fill="#222" />
<rect x="612.0" y="481.0" width="68.0" height="4.5" fill="#f2f2f2" />
<path d="M618 481q-3 4 0 8q3 -4 0 -8z" fill="#e02a1c" stroke="#e02a1c" stroke-width="1"/>
<path d="M627.5 481q-3 4 0 8q3 -4 0 -8z" fill="#e02a1c" stroke="#e02a1c" stroke-width="1"/>
<path d="M637 481q-3 4 0 8q3 -4 0 -8z" fill="#e02a1c" stroke="#e02a1c" stroke-width="1"/>
<path d="M646.5 481q-3 4 0 8q3 -4 0 -8z" fill="#e02a1c" stroke="#e02a1c" stroke-width="1"/>
<path d="M655 481q-3 4 0 8q3 -4 0 -8z" fill="#e02a1c" stroke="#e02a1c" stroke-width="1"/>
<path d="M663.5 481q-3 4 0 8q3 -4 0 -8z" fill="#e02a1c" stroke="#e02a1c" stroke-width="1"/>
<path d="M674 481q-3 4 0 8q3 -4 0 -8z" fill="#e02a1c" stroke="#e02a1c" stroke-width="1"/>
<rect x="790.0" y="274.0" width="22.0" height="136.0" fill="#111" />
<path d="M792.5 276.5L798.5 276.9M803.5 276.9L809.0 276.2M792.5 282.1L798.5 282.5M803.5 282.5L809.0 281.8M792.5 287.7L798.5 288.1M803.5 288.1L809.0 287.4M792.5 293.3L798.5 293.7M803.5 293.7L809.0 293.0M792.5 298.9L798.5 299.3M803.5 299.3L809.0 298.6M792.5 304.5L798.5 304.9M803.5 304.9L809.0 304.2M792.5 310.1L798.5 310.5M803.5 310.5L809.0 309.8M792.5 315.7L798.5 316.1M803.5 316.1L809.0 315.4M792.5 321.3L798.5 321.7M803.5 321.7L809.0 321.0M792.5 326.9L798.5 327.3M803.5 327.3L809.0 326.6M792.5 332.5L798.5 332.9M803.5 332.9L809.0 332.2M792.5 338.1L798.5 338.5M803.5 338.5L809.0 337.8M792.5 343.7L798.5 344.1M803.5 344.1L809.0 343.4M792.5 349.3L798.5 349.7M803.5 349.7L809.0 349.0M792.5 354.9L798.5 355.3M803.5 355.3L809.0 354.6M792.5 360.5L798.5 360.9M803.5 360.9L809.0 360.2M792.5 366.1L798.5 366.5M803.5 366.5L809.0 365.8M792.5 371.7L798.5 372.1M803.5 372.1L809.0 371.4M792.5 377.3L798.5 377.7M803.5 377.7L809.0 377.0M792.5 382.9L798.5 383.3M803.5 383.3L809.0 382.6M792.5 388.5L798.5 388.9M803.5 388.9L809.0 388.2M792.5 394.1L798.5 394.5M803.5 394.5L809.0 393.8M792.5 399.7L798.5 400.1M803.5 400.1L809.0 399.4M792.5 405.3L798.5 405.7M803.5 405.7L809.0 405.0" fill="none" stroke="#f4f4f4" stroke-width="2.5" stroke-linecap="round"/>
<rect x="864.0" y="274.0" width="24.0" height="136.0" fill="#111" />
<path d="M866.5 276.5L873.5 276.9M878.5 276.9L885.0 276.2M866.5 282.1L873.5 282.5M878.5 282.5L885.0 281.8M866.5 287.7L873.5 288.1M878.5 288.1L885.0 287.4M866.5 293.3L873.5 293.7M878.5 293.7L885.0 293.0M866.5 298.9L873.5 299.3M878.5 299.3L885.0 298.6M866.5 304.5L873.5 304.9M878.5 304.9L885.0 304.2M866.5 310.1L873.5 310.5M878.5 310.5L885.0 309.8M866.5 315.7L873.5 316.1M878.5 316.1L885.0 315.4M866.5 321.3L873.5 321.7M878.5 321.7L885.0 321.0M866.5 326.9L873.5 327.3M878.5 327.3L885.0 326.6M866.5 332.5L873.5 332.9M878.5 332.9L885.0 332.2M866.5 338.1L873.5 338.5M878.5 338.5L885.0 337.8M866.5 343.7L873.5 344.1M878.5 344.1L885.0 343.4M866.5 349.3L873.5 349.7M878.5 349.7L885.0 349.0M866.5 354.9L873.5 355.3M878.5 355.3L885.0 354.6M866.5 360.5L873.5 360.9M878.5 360.9L885.0 360.2M866.5 366.1L873.5 366.5M878.5 366.5L885.0 365.8M866.5 371.7L873.5 372.1M878.5 372.1L885.0 371.4M866.5 377.3L873.5 377.7M878.5 377.7L885.0 377.0M866.5 382.9L873.5 383.3M878.5 383.3L885.0 382.6M866.5 388.5L873.5 388.9M878.5 388.9L885.0 388.2M866.5 394.1L873.5 394.5M878.5 394.5L885.0 393.8M866.5 399.7L873.5 400.1M878.5 400.1L885.0 399.4M866.5 405.3L873.5 405.7M878.5 405.7L885.0 405.0" fill="none" stroke="#f4f4f4" stroke-width="2.5" stroke-linecap="round"/>
<rect x="824.0" y="277.5" width="32.0" height="18.5" fill="#111" rx="2"/>
<rect x="829.0" y="280.0" width="22.0" height="13.0" fill="#aeb9a0" />
<rect x="825.5" y="280.0" width="2.5" height="13.0" fill="#ddd" />
<rect x="852.0" y="280.0" width="2.5" height="13.0" fill="#ddd" />
<circle cx="834" cy="283.5" r="1.3" fill="#111"/>
<circle cx="846" cy="283.5" r="1.3" fill="#111"/>
<circle cx="834" cy="290" r="1.3" fill="#111"/>
<circle cx="846" cy="290" r="1.3" fill="#111"/>
<rect x="892.5" y="280.0" width="17.5" height="22.5" fill="#e6e6e2" stroke="#1a1a1a" stroke-width="2.4" rx="3"/>
<circle cx="900" cy="291.25" r="5" fill="#fff" stroke="#1a1a1a" stroke-width="2"/><circle cx="900" cy="291.25" r="2" fill="#111"/>
<rect x="892.5" y="381.0" width="17.5" height="23.0" fill="#e6e6e2" stroke="#1a1a1a" stroke-width="2.4" rx="3"/>
<circle cx="900" cy="392.5" r="5" fill="#fff" stroke="#1a1a1a" stroke-width="2"/><circle cx="900" cy="392.5" r="2" fill="#111"/>
<rect x="892.5" y="306.0" width="17.5" height="73.0" fill="#aab59b" stroke="#1a1a1a" stroke-width="2" rx="2"/>
<rect x="910.0" y="308.0" width="56.0" height="69.0" fill="url(#gbed)" stroke="#1a1a1a" stroke-width="2" />
<path d="M910 308H922L914 377H910Z" fill="#eef0ea" stroke="#1a1a1a" stroke-width="1.1" />
<path d="M922 308L930 312L917 377H914Z" fill="#dfe4d8" stroke="#1a1a1a" stroke-width="1.1" />
<path d="M905 313l12 9l-12 12l-12 -11z" fill="url(#gbed)" stroke="#1a1a1a" stroke-width="1.7" stroke-linejoin="round"/>
<path d="M905 326l12 9l-12 12l-12 -11z" fill="url(#gbed)" stroke="#1a1a1a" stroke-width="1.7" stroke-linejoin="round"/>
<path d="M905 339l12 9l-12 12l-12 -11z" fill="url(#gbed)" stroke="#1a1a1a" stroke-width="1.7" stroke-linejoin="round"/>
<rect x="971.0" y="313.0" width="18.5" height="58.0" fill="#f0efec" stroke="#1a1a1a" stroke-width="2" />
<rect x="1024.0" y="309.0" width="6.0" height="67.0" fill="#ddd" stroke="#1a1a1a" stroke-width="1.8" />
<line x1="1031.5" y1="337.0" x2="1031.5" y2="347.0" stroke="#1a1a1a" stroke-width="2.4" />
<g transform="translate(1002.6 264.8) rotate(37)">
<rect x="-14.5" y="-22.0" width="29.0" height="14.0" fill="#e4e8de" stroke="#1a1a1a" stroke-width="2.2" rx="4"/>
<rect x="-15.0" y="-12.0" width="6.5" height="21.0" fill="#c3ccb6" stroke="#1a1a1a" stroke-width="2" rx="3"/>
<rect x="8.5" y="-12.0" width="6.5" height="21.0" fill="#c3ccb6" stroke="#1a1a1a" stroke-width="2" rx="3"/>
<rect x="-9.0" y="-9.0" width="18.0" height="19.0" fill="url(#gseat)" stroke="#1a1a1a" stroke-width="2" rx="1.5"/>
<path d="M-7 -18Q0 -13 7 -18L6 -9Q0 -6 -6 -9Z" fill="#eef0ea" stroke="#1a1a1a" stroke-width="1.3" />
<path d="M-5 -16L5 -9M5 -16L-5 -9" fill="none" stroke="#1a1a1a" stroke-width="1.1" />
<line x1="-9.0" y1="10.2" x2="9.0" y2="10.2" stroke="#1a1a1a" stroke-width="3" />
<rect x="-11.5" y="12.0" width="23.0" height="12.0" fill="#e2e5dc" stroke="#1a1a1a" stroke-width="2.2" rx="1.5"/>
<text x="0" y="21.8" font-size="9" font-weight="bold" text-anchor="middle" fill="#111">xxx</text>
</g>
<circle cx="1025" cy="276.3" r="7.3" fill="#e6e4de" stroke="#1a1a1a" stroke-width="2.4"/><circle cx="1025" cy="276.3" r="4.6" fill="#e6e4de" stroke="#fff" stroke-width="1"/>
<path d="M1017 445Q1025.2 450.2 1032.8 447.3Q1026.6 442.4 1017 445M1017 445Q1019.7 453.3 1027.3 455.0Q1025.8 448.2 1017 445M1017 445Q1013.0 452.5 1017.0 458.0Q1021.0 452.5 1017 445M1017 445Q1008.2 448.2 1006.7 455.0Q1014.3 453.3 1017 445M1017 445Q1007.4 442.4 1001.2 447.3Q1008.8 450.2 1017 445M1017 445Q1011.2 437.8 1003.1 438.5Q1007.2 444.7 1017 445M1017 445Q1017.7 436.6 1011.5 432.8Q1010.2 439.3 1017 445M1017 445Q1023.8 439.3 1022.5 432.8Q1016.3 436.6 1017 445M1017 445Q1026.8 444.7 1030.9 438.5Q1022.8 437.8 1017 445" fill="#f4fbee" stroke="#3f9a1f" stroke-width="1.9" />
<circle cx="1017" cy="445" r="3.5" fill="#3f9a1f"/>
<rect x="594.5" y="547.5" width="15.0" height="143.0" fill="#e6e3de" stroke="#1a1a1a" stroke-width="1" />
<line x1="609.3" y1="547.5" x2="609.3" y2="690.5" stroke="#1a1a1a" stroke-width="2.2" />
<rect x="600.3" y="570.0" width="3.7" height="85.0" fill="#111" rx="1.8"/>
<line x1="598.0" y1="600.0" x2="598.0" y2="626.0" stroke="#555" stroke-width="1" />
<rect x="617.5" y="579.0" width="36.5" height="52.0" fill="none" stroke="#1a1a1a" stroke-width="2" stroke-dasharray="9 5"/>
<rect x="660.0" y="579.0" width="57.0" height="52.0" fill="none" stroke="#1a1a1a" stroke-width="2" stroke-dasharray="9 5"/>
<rect x="673.3" y="581.0" width="30.7" height="57.3" fill="#e4e0da" stroke="#1a1a1a" stroke-width="2.6" rx="3"/>
<rect x="717.8" y="568.5" width="31.2" height="80.5" fill="#a3ad95" stroke="#1a1a1a" stroke-width="2.6" rx="4"/>
<rect x="720.0" y="572.0" width="21.0" height="24.0" fill="url(#gseat)" stroke="#1a1a1a" stroke-width="1" rx="2"/>
<rect x="720.0" y="598.0" width="21.0" height="24.0" fill="url(#gseat)" stroke="#1a1a1a" stroke-width="1" rx="2"/>
<rect x="720.0" y="624.0" width="21.0" height="23.0" fill="url(#gseat)" stroke="#1a1a1a" stroke-width="1" rx="2"/>
<rect x="741.5" y="572.0" width="5.5" height="75.0" fill="#8e9a80" stroke="#1a1a1a" stroke-width="1" />
<path d="M727 578q6 -6 10 0q5 5 -1 9q-6 3 -9 -2z" fill="#f0f0ee" stroke="#1a1a1a" stroke-width="1.3"/><circle cx="729" cy="585" r="2.5" fill="#111"/>
<path d="M727 633q6 -6 10 0q5 5 -1 9q-6 3 -9 -2z" fill="#f0f0ee" stroke="#1a1a1a" stroke-width="1.3"/><circle cx="729" cy="640" r="2.5" fill="#111"/>
<rect x="675.0" y="534.0" width="29.0" height="31.0" fill="#9aa68a" stroke="#1a1a1a" stroke-width="1.4" rx="4"/>
<rect x="681.0" y="540.0" width="19.0" height="22.0" fill="url(#gseat)" rx="2"/>
<rect x="724.0" y="547.5" width="16.0" height="17.5" fill="#ecebe8" stroke="#1a1a1a" stroke-width="1.6" />
<circle cx="732" cy="556" r="4" fill="none" stroke="#1a1a1a" stroke-width="1.4"/><circle cx="732" cy="556" r="1.6" fill="#111"/>
<rect x="673.0" y="652.5" width="32.3" height="32.5" fill="#a3ad95" stroke="#1a1a1a" stroke-width="2.4" rx="5"/>
<rect x="678.0" y="657.0" width="23.0" height="22.0" fill="url(#gseat)" stroke="#1a1a1a" stroke-width="1" rx="2"/>
<path d="M690 668q6 -6 10 0q5 5 -1 9q-6 3 -9 -2z" fill="#f0f0ee" stroke="#1a1a1a" stroke-width="1.3"/><circle cx="692" cy="675" r="2.5" fill="#111"/>
<rect x="720.3" y="651.7" width="19.7" height="19.1" fill="#f2f1ee" stroke="#1a1a1a" stroke-width="2.4" />
<circle cx="730" cy="661" r="5" fill="none" stroke="#1a1a1a" stroke-width="1.6"/><circle cx="730" cy="661" r="2.8" fill="#111"/>
<rect x="810.4" y="478.5" width="19.6" height="14.8" fill="#e2dfda" stroke="#1a1a1a" stroke-width="2.2" />
<rect x="866.8" y="478.5" width="18.5" height="14.8" fill="#e2dfda" stroke="#1a1a1a" stroke-width="2.2" />
<path d="M832 478.5V489Q848.4 506 865 489V478.5Z" fill="#e2dfda" stroke="#1a1a1a" stroke-width="1.6" />
<rect x="829.0" y="548.0" width="37.8" height="96.0" fill="url(#gtable)" stroke="#1a1a1a" stroke-width="1.8" />
<g transform="translate(818.7 561.0) rotate(-90)">
<rect x="-8.8" y="-10.2" width="17.5" height="20.5" fill="#111" rx="2"/>
<rect x="-6.2" y="-9.1" width="12.5" height="15.8" fill="url(#gseat)" rx="2.5"/>
<rect x="-5.2" y="8.0" width="10.5" height="1.3" fill="#e8e8e8" />
</g>
<g transform="translate(877.0 561.0) rotate(90)">
<rect x="-8.8" y="-10.2" width="17.5" height="20.5" fill="#111" rx="2"/>
<rect x="-6.2" y="-9.1" width="12.5" height="15.8" fill="url(#gseat)" rx="2.5"/>
<rect x="-5.2" y="8.0" width="10.5" height="1.3" fill="#e8e8e8" />
</g>
<g transform="translate(818.7 583.3) rotate(-90)">
<rect x="-8.8" y="-10.2" width="17.5" height="20.5" fill="#111" rx="2"/>
<rect x="-6.2" y="-9.1" width="12.5" height="15.8" fill="url(#gseat)" rx="2.5"/>
<rect x="-5.2" y="8.0" width="10.5" height="1.3" fill="#e8e8e8" />
</g>
<g transform="translate(877.0 583.3) rotate(90)">
<rect x="-8.8" y="-10.2" width="17.5" height="20.5" fill="#111" rx="2"/>
<rect x="-6.2" y="-9.1" width="12.5" height="15.8" fill="url(#gseat)" rx="2.5"/>
<rect x="-5.2" y="8.0" width="10.5" height="1.3" fill="#e8e8e8" />
</g>
<g transform="translate(818.7 606.7) rotate(-90)">
<rect x="-8.8" y="-10.2" width="17.5" height="20.5" fill="#111" rx="2"/>
<rect x="-6.2" y="-9.1" width="12.5" height="15.8" fill="url(#gseat)" rx="2.5"/>
<rect x="-5.2" y="8.0" width="10.5" height="1.3" fill="#e8e8e8" />
</g>
<g transform="translate(877.0 606.7) rotate(90)">
<rect x="-8.8" y="-10.2" width="17.5" height="20.5" fill="#111" rx="2"/>
<rect x="-6.2" y="-9.1" width="12.5" height="15.8" fill="url(#gseat)" rx="2.5"/>
<rect x="-5.2" y="8.0" width="10.5" height="1.3" fill="#e8e8e8" />
</g>
<g transform="translate(818.7 632.5) rotate(-90)">
<rect x="-8.8" y="-10.2" width="17.5" height="20.5" fill="#111" rx="2"/>
<rect x="-6.2" y="-9.1" width="12.5" height="15.8" fill="url(#gseat)" rx="2.5"/>
<rect x="-5.2" y="8.0" width="10.5" height="1.3" fill="#e8e8e8" />
</g>
<g transform="translate(877.0 632.5) rotate(90)">
<rect x="-8.8" y="-10.2" width="17.5" height="20.5" fill="#111" rx="2"/>
<rect x="-6.2" y="-9.1" width="12.5" height="15.8" fill="url(#gseat)" rx="2.5"/>
<rect x="-5.2" y="8.0" width="10.5" height="1.3" fill="#e8e8e8" />
</g>
<g transform="translate(848.4 654.7) rotate(180)">
<rect x="-8.8" y="-10.8" width="17.5" height="21.5" fill="#111" rx="2"/>
<rect x="-6.2" y="-9.6" width="12.5" height="16.8" fill="url(#gseat)" rx="2.5"/>
<rect x="-5.2" y="8.4" width="10.5" height="1.3" fill="#e8e8e8" />
</g>
<g transform="translate(848.4 537.6) rotate(0)">
<rect x="-8.8" y="-10.2" width="17.5" height="20.5" fill="#111" rx="2"/>
<rect x="-6.2" y="-9.1" width="12.5" height="15.8" fill="url(#gseat)" rx="2.5"/>
<rect x="-5.2" y="8.0" width="10.5" height="1.3" fill="#e8e8e8" />
</g>
<rect x="922.5" y="479.0" width="30.5" height="20.5" fill="#d9d0a0" stroke="#1a1a1a" stroke-width="1" />
<rect x="922.5" y="499.0" width="30.5" height="3.5" fill="#111" />
<line x1="922.5" y1="477.5" x2="922.5" y2="621.0" stroke="#1a1a1a" stroke-width="1" />
<rect x="1015.0" y="520.0" width="22.0" height="23.0" fill="#d9d0a0" stroke="#1a1a1a" stroke-width="1" />
<rect x="1016.0" y="544.0" width="20.5" height="33.5" fill="#fff" stroke="#1a1a1a" stroke-width="1.8" />
<line x1="1016.0" y1="556.0" x2="1036.5" y2="556.0" stroke="#1a1a1a" stroke-width="1.3" />
<path d="M1032 551V560M1026 555H1037" fill="none" stroke="#1a1a1a" stroke-width="2" />
<rect x="922.5" y="596.5" width="23.5" height="24.0" fill="#d9d0a0" stroke="#1a1a1a" stroke-width="1" />
<rect x="969.0" y="596.0" width="27.5" height="24.5" fill="#f2f1e6" stroke="#1a1a1a" stroke-width="1.6" />
<rect x="980.0" y="598.0" width="6.0" height="19.0" fill="#f2f1e6" stroke="#1a1a1a" stroke-width="1.4" />
<circle cx="974.5" cy="602.5" r="3.4" fill="#111"/><circle cx="974.5" cy="602.5" r="1.5" fill="#f2f1e6"/>
<circle cx="974.5" cy="612" r="3.4" fill="#111"/><circle cx="974.5" cy="612" r="1.5" fill="#f2f1e6"/>
<circle cx="991" cy="602.5" r="3.4" fill="#111"/><circle cx="991" cy="602.5" r="1.5" fill="#f2f1e6"/>
<circle cx="991" cy="612" r="3.4" fill="#111"/><circle cx="991" cy="612" r="1.5" fill="#f2f1e6"/>
<path d="M970.5 598l3 2.5m2 0l3 -2.5M970.5 617l3 -2.5m2 0l3 2.5M987.5 598l3 2.5m2 0l3 -2.5M987.5 617l3 -2.5m2 0l3 2.5" fill="none" stroke="#1a1a1a" stroke-width="1.2" />
<rect x="969.0" y="617.5" width="27.5" height="3.5" fill="#111" />
<rect x="946.0" y="644.0" width="44.0" height="22.0" fill="#e4e3df" stroke="#1a1a1a" stroke-width="1" />
<rect x="946.0" y="644.0" width="10.0" height="66.0" fill="#e4e3df" stroke="#1a1a1a" stroke-width="1" />
<rect x="947.0" y="645.0" width="42.0" height="20.0" fill="#e4e3df" />
<path d="M943 642.5H990V667H958V710" fill="none" stroke="#1a1a1a" stroke-width="1" />
<rect x="991.0" y="641.0" width="40.0" height="34.0" fill="#81935a" stroke="#1a1a1a" stroke-width="1.2" />
<rect x="996.0" y="656.0" width="30.0" height="18.0" fill="#fff" stroke="#1a1a1a" stroke-width="1.4" />
<rect x="1004.0" y="643.0" width="14.0" height="13.0" fill="#e8e8e4" stroke="#1a1a1a" stroke-width="1.2" />
<circle cx="1011" cy="649.5" r="3.2" fill="#fff" stroke="#1a1a1a" stroke-width="1.3"/><circle cx="1011" cy="649.5" r="1.2" fill="#111"/>
<path d="M1011 657Q1019 664 1012 670Q1008 674 1013 684Q1002 676 1006 669Q1010 663 1011 657Z" fill="#e3261b" stroke="#e3261b" stroke-width="0.8" />
<rect x="1032.8" y="644.5" width="13.9" height="21.8" fill="#dcdad4" stroke="#1a1a1a" stroke-width="1.8" />
<rect x="616.0" y="712.5" width="26.0" height="24.5" fill="#efeeeb" stroke="#1a1a1a" stroke-width="2" />
<rect x="718.0" y="712.5" width="24.5" height="24.5" fill="#efeeeb" stroke="#1a1a1a" stroke-width="2" />
<rect x="643.0" y="711.5" width="73.0" height="28.5" fill="#111" />
<rect x="645.0" y="716.0" width="21.0" height="22.5" fill="url(#gseat)" rx="2"/>
<rect x="646.0" y="713.0" width="19.0" height="2.2" fill="#ddd" />
<rect x="669.0" y="716.0" width="21.0" height="22.5" fill="url(#gseat)" rx="2"/>
<rect x="670.0" y="713.0" width="19.0" height="2.2" fill="#ddd" />
<rect x="692.5" y="716.0" width="21.5" height="22.5" fill="url(#gseat)" rx="2"/>
<rect x="693.5" y="713.0" width="19.5" height="2.2" fill="#ddd" />
<rect x="616.5" y="740.0" width="28.0" height="23.5" fill="#111" rx="2"/>
<rect x="622.0" y="743.0" width="21.0" height="18.0" fill="url(#gseat)" rx="2"/>
<rect x="618.2" y="743.0" width="2.3" height="18.0" fill="#ddd" />
<rect x="715.0" y="740.0" width="28.0" height="23.5" fill="#111" rx="2"/>
<rect x="716.5" y="743.0" width="21.0" height="18.0" fill="url(#gseat)" rx="2"/>
<rect x="739.0" y="743.0" width="2.3" height="18.0" fill="#ddd" />
<rect x="657.5" y="751.0" width="43.5" height="18.5" fill="#f4f3f0" stroke="#1a1a1a" stroke-width="1.8" />
<rect x="945.0" y="751.0" width="76.0" height="39.0" fill="url(#gtableh)" stroke="#1a1a1a" stroke-width="2" />
<g transform="translate(958.0 740.5) rotate(0)">
<rect x="-8.5" y="-10.0" width="17.0" height="20.0" fill="#111" rx="2"/>
<rect x="-6.0" y="-8.8" width="12.0" height="15.3" fill="url(#gseat)" rx="2.5"/>
<rect x="-5.0" y="7.7" width="10.0" height="1.3" fill="#e8e8e8" />
</g>
<g transform="translate(958.0 800.5) rotate(180)">
<rect x="-8.5" y="-10.0" width="17.0" height="20.0" fill="#111" rx="2"/>
<rect x="-6.0" y="-8.8" width="12.0" height="15.3" fill="url(#gseat)" rx="2.5"/>
<rect x="-5.0" y="7.7" width="10.0" height="1.3" fill="#e8e8e8" />
</g>
<g transform="translate(982.0 740.5) rotate(0)">
<rect x="-8.5" y="-10.0" width="17.0" height="20.0" fill="#111" rx="2"/>
<rect x="-6.0" y="-8.8" width="12.0" height="15.3" fill="url(#gseat)" rx="2.5"/>
<rect x="-5.0" y="7.7" width="10.0" height="1.3" fill="#e8e8e8" />
</g>
<g transform="translate(982.0 800.5) rotate(180)">
<rect x="-8.5" y="-10.0" width="17.0" height="20.0" fill="#111" rx="2"/>
<rect x="-6.0" y="-8.8" width="12.0" height="15.3" fill="url(#gseat)" rx="2.5"/>
<rect x="-5.0" y="7.7" width="10.0" height="1.3" fill="#e8e8e8" />
</g>
<g transform="translate(1004.5 740.5) rotate(0)">
<rect x="-8.5" y="-10.0" width="17.0" height="20.0" fill="#111" rx="2"/>
<rect x="-6.0" y="-8.8" width="12.0" height="15.3" fill="url(#gseat)" rx="2.5"/>
<rect x="-5.0" y="7.7" width="10.0" height="1.3" fill="#e8e8e8" />
</g>
<g transform="translate(1004.5 800.5) rotate(180)">
<rect x="-8.5" y="-10.0" width="17.0" height="20.0" fill="#111" rx="2"/>
<rect x="-6.0" y="-8.8" width="12.0" height="15.3" fill="url(#gseat)" rx="2.5"/>
<rect x="-5.0" y="7.7" width="10.0" height="1.3" fill="#e8e8e8" />
</g>
<g transform="translate(934.0 770.5) rotate(-90)">
<rect x="-8.5" y="-10.0" width="17.0" height="20.0" fill="#111" rx="2"/>
<rect x="-6.0" y="-8.8" width="12.0" height="15.3" fill="url(#gseat)" rx="2.5"/>
<rect x="-5.0" y="7.7" width="10.0" height="1.3" fill="#e8e8e8" />
</g>
<g transform="translate(1031.5 770.5) rotate(90)">
<rect x="-8.5" y="-10.0" width="17.0" height="20.0" fill="#111" rx="2"/>
<rect x="-6.0" y="-8.8" width="12.0" height="15.3" fill="url(#gseat)" rx="2.5"/>
<rect x="-5.0" y="7.7" width="10.0" height="1.3" fill="#e8e8e8" />
</g>
<rect x="600.5" y="767.5" width="5.0" height="5.0" fill="#888" stroke="#1a1a1a" stroke-width="1" />
<rect x="600.5" y="818.5" width="5.0" height="5.0" fill="#888" stroke="#1a1a1a" stroke-width="1" />
<rect x="1048.5" y="711.5" width="5.0" height="5.0" fill="#888" stroke="#1a1a1a" stroke-width="1" />
<rect x="1048.5" y="818.5" width="5.0" height="5.0" fill="#888" stroke="#1a1a1a" stroke-width="1" />
<rect x="917.5" y="818.5" width="5.0" height="5.0" fill="#888" stroke="#1a1a1a" stroke-width="1" />
<rect x="776.5" y="818.5" width="5.0" height="5.0" fill="#888" stroke="#1a1a1a" stroke-width="1" />
<line x1="599.0" y1="818.7" x2="1046.0" y2="818.7" stroke="#1a1a1a" stroke-width="3" stroke-dasharray="26 10.7 1.5 10.7" stroke-dashoffset="28.6"/>
</g>
<g id="dims">
<line x1="20.5" y1="190.5" x2="29.0" y2="190.5" stroke="#1a1a1a" stroke-width="2" />
<line x1="33.7" y1="190.5" x2="309.5" y2="190.5" stroke="#1a1a1a" stroke-width="2.1" stroke-dasharray="26 10.7 1.5 10.7"/>
<line x1="607.0" y1="190.5" x2="1037.5" y2="190.5" stroke="#1a1a1a" stroke-width="2.1" stroke-dasharray="26 10.7 1.5 10.7" stroke-dashoffset="35.9"/>
<line x1="136.0" y1="190.5" x2="136.0" y2="252.5" stroke="#1a1a1a" stroke-width="2.1" stroke-dasharray="22.5 12 1.5 11 16 0"/>
<line x1="1037.5" y1="190.0" x2="1037.5" y2="218.0" stroke="#1a1a1a" stroke-width="1.8" />
<line x1="136.0" y1="640.5" x2="136.0" y2="950.0" stroke="#1a1a1a" stroke-width="2.1" stroke-dasharray="26 11 1.5 10.7" stroke-dashoffset="10.3"/>
<line x1="20.5" y1="819.0" x2="29.0" y2="819.0" stroke="#1a1a1a" stroke-width="2" />
<line x1="32.5" y1="819.0" x2="599.0" y2="819.0" stroke="#1a1a1a" stroke-width="2.1" stroke-dasharray="26 10.7 1.5 10.7"/>
<line x1="1037.5" y1="630.6" x2="1037.5" y2="950.0" stroke="#1a1a1a" stroke-width="1.8" stroke-dasharray="26 11.2 1.5 10.7"/>
<line x1="27.0" y1="190.0" x2="27.0" y2="819.0" stroke="#1a1a1a" stroke-width="1.9" />
<line x1="23.0" y1="187.0" x2="31.0" y2="194.0" stroke="#1a1a1a" stroke-width="1.6" />
<line x1="23.0" y1="816.0" x2="31.0" y2="823.0" stroke="#1a1a1a" stroke-width="1.6" />
<line x1="132.0" y1="931.0" x2="1042.0" y2="931.0" stroke="#1a1a1a" stroke-width="1.7" />
<line x1="133.0" y1="935.0" x2="139.0" y2="927.0" stroke="#1a1a1a" stroke-width="1.6" />
<line x1="1034.5" y1="935.0" x2="1040.5" y2="927.0" stroke="#1a1a1a" stroke-width="1.6" />
<line x1="382.0" y1="764.0" x2="382.0" y2="814.0" stroke="#1a1a1a" stroke-width="1.6" />
<path d="M375.5 766L382 759.5L388.5 766L386.5 767.8H377.5Z" fill="#111"/>
<path d="M379.5 765Q382 762.5 384.5 765" fill="none" stroke="#ddd" stroke-width="0.9" />
<ellipse cx="377.3" cy="817" rx="3.7" ry="6" fill="#111" transform="rotate(-8 377.3 817)"/><ellipse cx="378.3" cy="825.7" rx="2.8" ry="2.6" fill="#111"/>
<ellipse cx="386.8" cy="813.5" rx="3.7" ry="6" fill="#111" transform="rotate(8 386.8 813.5)"/><ellipse cx="385.6" cy="822.3" rx="2.8" ry="2.6" fill="#111"/>
<line x1="850.5" y1="858.0" x2="850.5" y2="909.5" stroke="#1a1a1a" stroke-width="1.5" />
<path d="M845 861.5Q850.5 854 856 861.5" fill="none" stroke="#1a1a1a" stroke-width="1.3" />
<path d="M846 861.5L850.5 856L855 861.5Z" fill="#111"/>
</g>
<g id="labels">
<text x="195.0" y="303.0" font-size="19" text-anchor="middle" fill="#111" textLength="62" lengthAdjust="spacingAndGlyphs">Тех. пом.</text>
<text x="197.0" y="321.0" font-size="19" text-anchor="middle" fill="#111" textLength="39" lengthAdjust="spacingAndGlyphs">7.80</text>
<text x="213.5" y="389.0" font-size="19" text-anchor="middle" fill="#111" textLength="55" lengthAdjust="spacingAndGlyphs">Гараж</text>
<text x="215.0" y="405.5" font-size="19" text-anchor="middle" fill="#111" textLength="48" lengthAdjust="spacingAndGlyphs">33.20</text>
<text x="366.0" y="301.0" font-size="19" text-anchor="middle" fill="#111" textLength="70" lengthAdjust="spacingAndGlyphs">Спальня</text>
<text x="367.0" y="320.0" font-size="19" text-anchor="middle" fill="#111" textLength="46" lengthAdjust="spacingAndGlyphs">12.80</text>
<text x="529.0" y="301.0" font-size="19" text-anchor="middle" fill="#111" textLength="70" lengthAdjust="spacingAndGlyphs">Спальня</text>
<text x="530.0" y="320.0" font-size="19" text-anchor="middle" fill="#111" textLength="46" lengthAdjust="spacingAndGlyphs">12.80</text>
<text x="380.5" y="420.0" font-size="19" text-anchor="middle" fill="#111" textLength="39" lengthAdjust="spacingAndGlyphs">5.60</text>
<text x="539.5" y="420.0" font-size="19" text-anchor="middle" fill="#111" textLength="39" lengthAdjust="spacingAndGlyphs">5.60</text>
<text x="452.5" y="421.0" font-size="19" text-anchor="middle" fill="#111" textLength="40" lengthAdjust="spacingAndGlyphs">Холл</text>
<text x="453.0" y="441.0" font-size="19" text-anchor="middle" fill="#111" textLength="39" lengthAdjust="spacingAndGlyphs">7.00</text>
<text x="393.5" y="531.0" font-size="19" text-anchor="middle" fill="#111" textLength="75" lengthAdjust="spacingAndGlyphs">Прихожая</text>
<text x="394.0" y="554.0" font-size="19" text-anchor="middle" fill="#111" textLength="47.5" lengthAdjust="spacingAndGlyphs">12.60</text>
<text x="516.0" y="522.5" font-size="19" text-anchor="middle" fill="#111" textLength="40" lengthAdjust="spacingAndGlyphs">Холл</text>
<text x="516.5" y="542.5" font-size="19" text-anchor="middle" fill="#111" textLength="39" lengthAdjust="spacingAndGlyphs">9.00</text>
<text x="516.5" y="632.5" font-size="19" text-anchor="middle" fill="#111" textLength="77" lengthAdjust="spacingAndGlyphs">Кабинет</text>
<text x="518.0" y="651.0" font-size="19" text-anchor="middle" fill="#111" textLength="48.5" lengthAdjust="spacingAndGlyphs">14.40</text>
<text x="379.0" y="710.0" font-size="19" text-anchor="middle" fill="#111" textLength="76" lengthAdjust="spacingAndGlyphs">Крыльцо</text>
<text x="379.0" y="730.0" font-size="19" text-anchor="middle" fill="#111" textLength="42.5" lengthAdjust="spacingAndGlyphs">11.40</text>
<text x="714.0" y="342.5" font-size="19" text-anchor="middle" fill="#111" textLength="56.5" lengthAdjust="spacingAndGlyphs">Ванная</text>
<text x="716.5" y="362.5" font-size="19" text-anchor="middle" fill="#111" textLength="45" lengthAdjust="spacingAndGlyphs">15.10</text>
<text x="645.5" y="451.0" font-size="19" text-anchor="middle" fill="#111" textLength="89" lengthAdjust="spacingAndGlyphs">Сауна 5.30</text>
<text x="798.5" y="432.5" font-size="19" text-anchor="middle" fill="#111" textLength="41" lengthAdjust="spacingAndGlyphs">Холл</text>
<text x="800.0" y="451.5" font-size="19" text-anchor="middle" fill="#111" textLength="39" lengthAdjust="spacingAndGlyphs">6.50</text>
<text x="969.0" y="404.0" font-size="19" text-anchor="middle" fill="#111" textLength="70" lengthAdjust="spacingAndGlyphs">Спальня</text>
<text x="969.0" y="424.0" font-size="19" text-anchor="middle" fill="#111" textLength="50" lengthAdjust="spacingAndGlyphs">22.00</text>
<text x="730.0" y="522.5" font-size="19" text-anchor="middle" fill="#111" textLength="158" lengthAdjust="spacingAndGlyphs">Гостиная-столовая</text>
<text x="738.5" y="542.5" font-size="19" text-anchor="middle" fill="#111" textLength="47.5" lengthAdjust="spacingAndGlyphs">46.90</text>
<text x="969.0" y="547.5" font-size="19" text-anchor="middle" fill="#111" textLength="44" lengthAdjust="spacingAndGlyphs">Кухня</text>
<text x="969.5" y="566.0" font-size="19" text-anchor="middle" fill="#111" textLength="45" lengthAdjust="spacingAndGlyphs">11.20</text>
<text x="834.5" y="750.0" font-size="19" text-anchor="middle" fill="#111" textLength="103" lengthAdjust="spacingAndGlyphs">Остекленная</text>
<text x="835.0" y="769.0" font-size="19" text-anchor="middle" fill="#111" textLength="69" lengthAdjust="spacingAndGlyphs">терраса</text>
<text x="833.5" y="789.3" font-size="19" text-anchor="middle" fill="#111" textLength="48" lengthAdjust="spacingAndGlyphs">39.50</text>
<text x="815.5" y="845.0" font-size="19" text-anchor="middle" fill="#111" textLength="77" lengthAdjust="spacingAndGlyphs">Крыльцо</text>
<text x="815.5" y="866.0" font-size="19" text-anchor="middle" fill="#111" textLength="37" lengthAdjust="spacingAndGlyphs">5.40</text>
<text transform="translate(841 344) rotate(-90)" font-size="19" text-anchor="middle" fill="#111" textLength="80" lengthAdjust="spacingAndGlyphs">Гардероб</text>
<text x="839.5" y="400.0" font-size="19" text-anchor="middle" fill="#111" textLength="39" lengthAdjust="spacingAndGlyphs">8.80</text>
<text x="937.5" y="494.0" font-size="10" text-anchor="middle" fill="#111" font-weight="bold">Хл</text>
<text x="934.0" y="613.0" font-size="10" text-anchor="middle" fill="#111" font-weight="bold">ДШ</text>
<text transform="translate(1030 531.5) rotate(-90)" font-size="9" font-weight="bold" text-anchor="middle" fill="#111">ПМ</text>
<text transform="translate(345 405.5) rotate(-90)" font-size="9" font-weight="bold" text-anchor="middle" fill="#111">СтМ</text>
<text x="552.7" y="130.3" font-size="23" text-anchor="middle" fill="#111" textLength="55.5" lengthAdjust="spacingAndGlyphs">План</text>
<text x="642.5" y="130.3" font-size="23" text-anchor="middle" fill="#111" textLength="93" lengthAdjust="spacingAndGlyphs">первого</text>
<text x="742.0" y="130.3" font-size="23" text-anchor="middle" fill="#111" textLength="74" lengthAdjust="spacingAndGlyphs">этажа</text>
<text transform="translate(25 505) rotate(-90)" font-size="21" text-anchor="middle" fill="#111" textLength="62" lengthAdjust="spacingAndGlyphs">16200</text>
<text x="587.0" y="929.5" font-size="21" text-anchor="middle" fill="#111" textLength="62" lengthAdjust="spacingAndGlyphs">23400</text>
</g>
<g id="wm" font-size="103.9" font-weight="bold">
<text x="134.2" y="572.5" fill="#2a2a2a" opacity="0.75" filter="url(#wmshadow)">www.Alfaplan.ru</text>
<text x="129.7" y="568" fill="#ffffff" opacity="0.88">www.Alfaplan.ru</text>
</g>
</svg>
</body></html>
